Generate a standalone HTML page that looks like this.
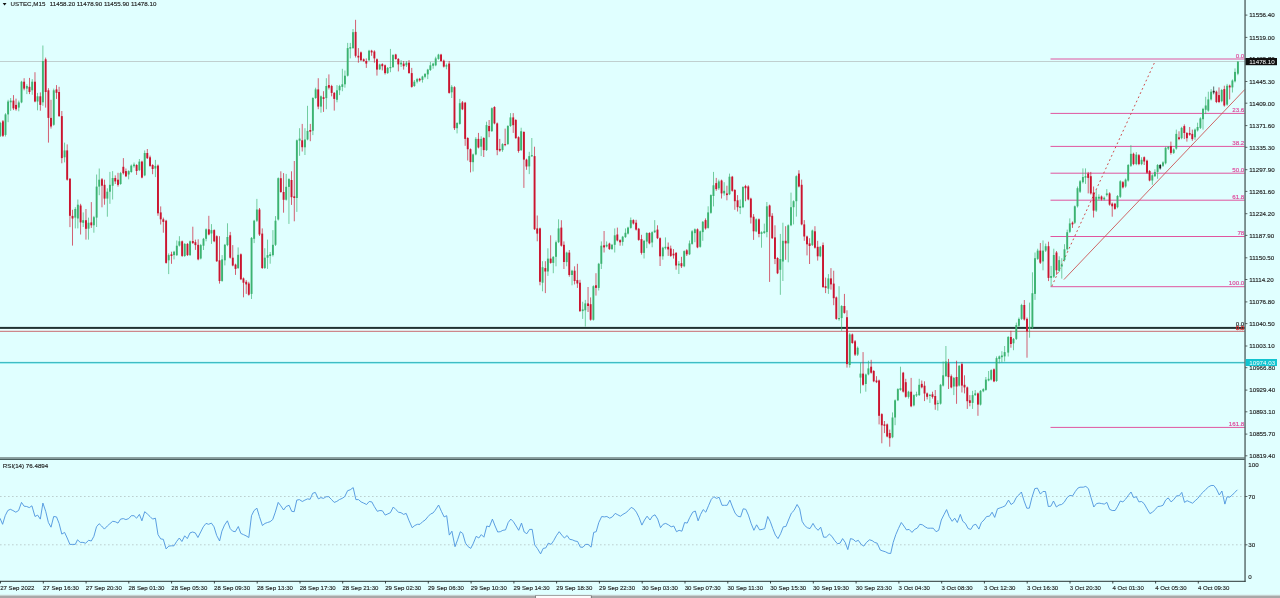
<!DOCTYPE html>
<html><head><meta charset="utf-8"><title>USTEC,M15</title>
<style>
html,body{margin:0;padding:0;background:#e0ffff;overflow:hidden}
body{width:1280px;height:598px;font-family:"Liberation Sans", sans-serif}
svg text{font-family:"Liberation Sans", sans-serif;stroke-width:0.14px;paint-order:stroke}
svg text[fill="#222"]{stroke:#222}
svg text[fill="#de3f96"]{stroke:#de3f96}
svg text[fill="#d02020"]{stroke:#d02020;stroke-width:0.3px}
svg{will-change:transform}
</style></head>
<body>
<svg width="1280" height="598" viewBox="0 0 1280 598" style="display:block">
<rect x="0" y="0" width="1280" height="598" fill="#e0ffff"/>
<line x1="0" y1="61.5" x2="1245" y2="61.5" stroke="#c0cfcf" stroke-width="1"/>
<line x1="1050.5" y1="59.0" x2="1245" y2="59.0" stroke="#e0559f" stroke-width="1"/>
<text x="1244.3" y="57.5" text-anchor="end" font-size="6.2" fill="#de3f96">0.0</text>
<line x1="1050.5" y1="113.4" x2="1245" y2="113.4" stroke="#e0559f" stroke-width="1"/>
<text x="1244.3" y="111.9" text-anchor="end" font-size="6.2" fill="#de3f96">23.6</text>
<line x1="1050.5" y1="146.4" x2="1245" y2="146.4" stroke="#e0559f" stroke-width="1"/>
<text x="1244.3" y="144.9" text-anchor="end" font-size="6.2" fill="#de3f96">38.2</text>
<line x1="1050.5" y1="173.2" x2="1245" y2="173.2" stroke="#e0559f" stroke-width="1"/>
<text x="1244.3" y="171.7" text-anchor="end" font-size="6.2" fill="#de3f96">50.0</text>
<line x1="1050.5" y1="200.2" x2="1245" y2="200.2" stroke="#e0559f" stroke-width="1"/>
<text x="1244.3" y="198.7" text-anchor="end" font-size="6.2" fill="#de3f96">61.8</text>
<line x1="1050.5" y1="236.5" x2="1245" y2="236.5" stroke="#e0559f" stroke-width="1"/>
<text x="1244.3" y="235.0" text-anchor="end" font-size="6.2" fill="#de3f96">78</text>
<line x1="1050.5" y1="286.7" x2="1245" y2="286.7" stroke="#e0559f" stroke-width="1"/>
<text x="1244.3" y="285.2" text-anchor="end" font-size="6.2" fill="#de3f96">100.0</text>
<line x1="1050.5" y1="427.4" x2="1245" y2="427.4" stroke="#e0559f" stroke-width="1"/>
<text x="1244.3" y="425.9" text-anchor="end" font-size="6.2" fill="#de3f96">161.8</text>
<rect x="0" y="326.9" width="1245" height="2.0" fill="#223333"/>
<rect x="0" y="329.4" width="1245" height="1.0" fill="#f6ffff"/>
<line x1="0" y1="331.3" x2="1245" y2="331.3" stroke="#c86a6e" stroke-width="1"/>
<rect x="0" y="361.9" width="1245" height="1.2" fill="#3fbcc4"/>
<rect x="0" y="363.1" width="1245" height="0.8" fill="#8eeaee"/>
<text x="1244.3" y="325.6" text-anchor="end" font-size="6.2" fill="#222">0.0</text>
<text x="1244.3" y="329.8" text-anchor="end" font-size="6.2" fill="#d02020">0.0</text>
<line x1="1063.9" y1="279.6" x2="1245" y2="89.3" stroke="#cc5555" stroke-width="0.9"/>
<line x1="1051.8" y1="286.2" x2="1155" y2="61.5" stroke="#cf4848" stroke-width="1" stroke-dasharray="1.8,2.8"/>
<g shape-rendering="auto"><rect x="-0.11" y="121.8" width="0.9" height="15.2" fill="#3cb371" opacity="0.75"/><rect x="-0.61" y="123.0" width="1.9" height="12.8" fill="#3cb371"/><rect x="2.48" y="120.0" width="0.9" height="17.0" fill="#cb142f" opacity="0.75"/><rect x="1.98" y="121.3" width="1.9" height="14.5" fill="#cb142f"/><rect x="5.06" y="113.2" width="0.9" height="23.3" fill="#3cb371" opacity="0.75"/><rect x="4.56" y="114.4" width="1.9" height="20.5" fill="#3cb371"/><rect x="7.65" y="99.8" width="0.9" height="22.4" fill="#3cb371" opacity="0.75"/><rect x="7.15" y="101.5" width="1.9" height="12.9" fill="#3cb371"/><rect x="10.23" y="98.0" width="0.9" height="12.9" fill="#3cb371" opacity="0.75"/><rect x="9.73" y="100.6" width="1.9" height="1.7" fill="#3cb371"/><rect x="12.99" y="95.1" width="0.9" height="15.0" fill="#cb142f" opacity="0.75"/><rect x="12.49" y="100.6" width="1.9" height="7.8" fill="#cb142f"/><rect x="15.57" y="98.6" width="0.9" height="12.1" fill="#cb142f" opacity="0.75"/><rect x="15.07" y="104.9" width="1.9" height="4.3" fill="#cb142f"/><rect x="18.33" y="100.6" width="0.9" height="10.7" fill="#3cb371" opacity="0.75"/><rect x="17.83" y="102.4" width="1.9" height="5.2" fill="#3cb371"/><rect x="21.08" y="80.8" width="0.9" height="22.4" fill="#3cb371" opacity="0.75"/><rect x="20.58" y="81.7" width="1.9" height="20.7" fill="#3cb371"/><rect x="23.67" y="78.2" width="0.9" height="12.1" fill="#cb142f" opacity="0.75"/><rect x="23.17" y="81.7" width="1.9" height="6.9" fill="#cb142f"/><rect x="26.42" y="84.3" width="0.9" height="9.8" fill="#3cb371" opacity="0.75"/><rect x="25.92" y="86.0" width="1.9" height="2.6" fill="#3cb371"/><rect x="29.01" y="77.9" width="0.9" height="16.2" fill="#cb142f" opacity="0.75"/><rect x="28.51" y="86.8" width="1.9" height="5.2" fill="#cb142f"/><rect x="31.76" y="79.1" width="0.9" height="15.7" fill="#3cb371" opacity="0.75"/><rect x="31.26" y="81.7" width="1.9" height="8.6" fill="#3cb371"/><rect x="34.52" y="72.2" width="0.9" height="30.1" fill="#cb142f" opacity="0.75"/><rect x="34.02" y="81.7" width="1.9" height="19.8" fill="#cb142f"/><rect x="37.10" y="92.9" width="0.9" height="17.4" fill="#3cb371" opacity="0.75"/><rect x="36.60" y="96.3" width="1.9" height="5.2" fill="#3cb371"/><rect x="39.86" y="92.4" width="0.9" height="18.3" fill="#cb142f" opacity="0.75"/><rect x="39.36" y="96.3" width="1.9" height="8.6" fill="#cb142f"/><rect x="42.44" y="45.5" width="0.9" height="60.3" fill="#3cb371" opacity="0.75"/><rect x="41.94" y="61.0" width="1.9" height="41.3" fill="#3cb371"/><rect x="45.20" y="57.6" width="0.9" height="50.0" fill="#cb142f" opacity="0.75"/><rect x="44.70" y="59.3" width="1.9" height="32.7" fill="#cb142f"/><rect x="47.96" y="88.2" width="0.9" height="54.4" fill="#cb142f" opacity="0.75"/><rect x="47.46" y="90.3" width="1.9" height="27.6" fill="#cb142f"/><rect x="50.54" y="99.8" width="0.9" height="28.8" fill="#cb142f" opacity="0.75"/><rect x="50.04" y="117.9" width="1.9" height="8.6" fill="#cb142f"/><rect x="53.30" y="88.6" width="0.9" height="37.2" fill="#3cb371" opacity="0.75"/><rect x="52.80" y="90.3" width="1.9" height="34.5" fill="#3cb371"/><rect x="56.05" y="85.1" width="0.9" height="13.8" fill="#cb142f" opacity="0.75"/><rect x="55.55" y="89.4" width="1.9" height="3.4" fill="#cb142f"/><rect x="58.64" y="86.8" width="0.9" height="30.1" fill="#cb142f" opacity="0.75"/><rect x="58.14" y="92.0" width="1.9" height="24.1" fill="#cb142f"/><rect x="61.39" y="111.0" width="0.9" height="52.3" fill="#cb142f" opacity="0.75"/><rect x="60.89" y="116.1" width="1.9" height="42.0" fill="#cb142f"/><rect x="64.15" y="142.6" width="0.9" height="19.8" fill="#3cb371" opacity="0.75"/><rect x="63.65" y="150.4" width="1.9" height="6.9" fill="#3cb371"/><rect x="66.73" y="144.4" width="0.9" height="36.2" fill="#cb142f" opacity="0.75"/><rect x="66.23" y="150.4" width="1.9" height="29.3" fill="#cb142f"/><rect x="69.49" y="178.0" width="0.9" height="49.1" fill="#cb142f" opacity="0.75"/><rect x="68.99" y="178.8" width="1.9" height="37.0" fill="#cb142f"/><rect x="72.07" y="209.8" width="0.9" height="35.8" fill="#cb142f" opacity="0.75"/><rect x="71.57" y="215.9" width="1.9" height="2.6" fill="#cb142f"/><rect x="74.83" y="207.2" width="0.9" height="21.2" fill="#3cb371" opacity="0.75"/><rect x="74.33" y="209.0" width="1.9" height="8.6" fill="#3cb371"/><rect x="77.41" y="199.5" width="0.9" height="28.9" fill="#3cb371" opacity="0.75"/><rect x="76.91" y="204.7" width="1.9" height="13.8" fill="#3cb371"/><rect x="80.17" y="203.8" width="0.9" height="30.7" fill="#cb142f" opacity="0.75"/><rect x="79.67" y="205.5" width="1.9" height="16.9" fill="#cb142f"/><rect x="82.75" y="212.4" width="0.9" height="14.6" fill="#3cb371" opacity="0.75"/><rect x="82.25" y="220.2" width="1.9" height="2.6" fill="#3cb371"/><rect x="85.51" y="209.0" width="0.9" height="30.6" fill="#cb142f" opacity="0.75"/><rect x="85.01" y="220.2" width="1.9" height="8.6" fill="#cb142f"/><rect x="88.09" y="217.6" width="0.9" height="22.0" fill="#3cb371" opacity="0.75"/><rect x="87.59" y="222.7" width="1.9" height="6.0" fill="#3cb371"/><rect x="90.85" y="202.1" width="0.9" height="25.8" fill="#cb142f" opacity="0.75"/><rect x="90.35" y="222.4" width="1.9" height="2.9" fill="#cb142f"/><rect x="93.43" y="215.9" width="0.9" height="16.8" fill="#3cb371" opacity="0.75"/><rect x="92.93" y="217.2" width="1.9" height="8.1" fill="#3cb371"/><rect x="96.19" y="174.5" width="0.9" height="52.5" fill="#3cb371" opacity="0.75"/><rect x="95.69" y="186.6" width="1.9" height="31.0" fill="#3cb371"/><rect x="98.77" y="168.5" width="0.9" height="26.7" fill="#3cb371" opacity="0.75"/><rect x="98.27" y="179.7" width="1.9" height="6.9" fill="#3cb371"/><rect x="101.53" y="178.0" width="0.9" height="29.3" fill="#cb142f" opacity="0.75"/><rect x="101.03" y="179.3" width="1.9" height="6.4" fill="#cb142f"/><rect x="104.12" y="179.7" width="0.9" height="25.0" fill="#cb142f" opacity="0.75"/><rect x="103.62" y="184.8" width="1.9" height="13.8" fill="#cb142f"/><rect x="106.87" y="188.3" width="0.9" height="28.4" fill="#3cb371" opacity="0.75"/><rect x="106.37" y="191.7" width="1.9" height="6.9" fill="#3cb371"/><rect x="109.46" y="171.9" width="0.9" height="31.9" fill="#3cb371" opacity="0.75"/><rect x="108.96" y="184.8" width="1.9" height="6.9" fill="#3cb371"/><rect x="112.21" y="171.1" width="0.9" height="28.4" fill="#3cb371" opacity="0.75"/><rect x="111.71" y="178.0" width="1.9" height="7.8" fill="#3cb371"/><rect x="114.80" y="175.4" width="0.9" height="8.6" fill="#cb142f" opacity="0.75"/><rect x="114.30" y="178.0" width="1.9" height="3.4" fill="#cb142f"/><rect x="117.55" y="172.8" width="0.9" height="13.8" fill="#cb142f" opacity="0.75"/><rect x="117.05" y="179.7" width="1.9" height="5.2" fill="#cb142f"/><rect x="120.14" y="171.9" width="0.9" height="12.9" fill="#3cb371" opacity="0.75"/><rect x="119.64" y="173.1" width="1.9" height="10.9" fill="#3cb371"/><rect x="122.89" y="158.1" width="0.9" height="16.4" fill="#cb142f" opacity="0.75"/><rect x="122.39" y="166.8" width="1.9" height="6.4" fill="#cb142f"/><rect x="125.48" y="168.5" width="0.9" height="8.6" fill="#cb142f" opacity="0.75"/><rect x="124.98" y="171.1" width="1.9" height="5.2" fill="#cb142f"/><rect x="128.23" y="170.2" width="0.9" height="9.1" fill="#3cb371" opacity="0.75"/><rect x="127.73" y="171.1" width="1.9" height="3.4" fill="#3cb371"/><rect x="130.82" y="164.5" width="0.9" height="8.3" fill="#3cb371" opacity="0.75"/><rect x="130.32" y="165.6" width="1.9" height="6.4" fill="#3cb371"/><rect x="133.57" y="162.5" width="0.9" height="5.2" fill="#3cb371" opacity="0.75"/><rect x="133.07" y="164.5" width="1.9" height="1.7" fill="#3cb371"/><rect x="136.16" y="164.2" width="0.9" height="10.7" fill="#cb142f" opacity="0.75"/><rect x="135.66" y="165.0" width="1.9" height="6.0" fill="#cb142f"/><rect x="138.91" y="159.0" width="0.9" height="12.1" fill="#3cb371" opacity="0.75"/><rect x="138.41" y="161.6" width="1.9" height="8.6" fill="#3cb371"/><rect x="141.50" y="160.7" width="0.9" height="17.6" fill="#cb142f" opacity="0.75"/><rect x="141.00" y="161.6" width="1.9" height="16.0" fill="#cb142f"/><rect x="144.25" y="150.4" width="0.9" height="25.8" fill="#3cb371" opacity="0.75"/><rect x="143.75" y="153.0" width="1.9" height="22.4" fill="#3cb371"/><rect x="146.84" y="149.0" width="0.9" height="10.0" fill="#cb142f" opacity="0.75"/><rect x="146.34" y="153.0" width="1.9" height="5.2" fill="#cb142f"/><rect x="149.59" y="155.6" width="0.9" height="11.2" fill="#cb142f" opacity="0.75"/><rect x="149.09" y="157.3" width="1.9" height="8.6" fill="#cb142f"/><rect x="152.18" y="164.2" width="0.9" height="10.0" fill="#cb142f" opacity="0.75"/><rect x="151.68" y="165.0" width="1.9" height="4.0" fill="#cb142f"/><rect x="154.93" y="159.9" width="0.9" height="17.2" fill="#3cb371" opacity="0.75"/><rect x="154.43" y="165.9" width="1.9" height="2.6" fill="#3cb371"/><rect x="157.52" y="164.5" width="0.9" height="51.3" fill="#cb142f" opacity="0.75"/><rect x="157.02" y="165.6" width="1.9" height="47.7" fill="#cb142f"/><rect x="160.27" y="206.4" width="0.9" height="18.1" fill="#cb142f" opacity="0.75"/><rect x="159.77" y="212.4" width="1.9" height="6.9" fill="#cb142f"/><rect x="162.86" y="217.6" width="0.9" height="15.1" fill="#cb142f" opacity="0.75"/><rect x="162.36" y="219.3" width="1.9" height="2.6" fill="#cb142f"/><rect x="165.67" y="219.8" width="0.9" height="43.9" fill="#cb142f" opacity="0.75"/><rect x="165.17" y="220.7" width="1.9" height="42.2" fill="#cb142f"/><rect x="168.25" y="253.4" width="0.9" height="20.7" fill="#3cb371" opacity="0.75"/><rect x="167.75" y="255.1" width="1.9" height="5.2" fill="#3cb371"/><rect x="171.01" y="251.7" width="0.9" height="12.1" fill="#cb142f" opacity="0.75"/><rect x="170.51" y="254.3" width="1.9" height="1.7" fill="#cb142f"/><rect x="173.59" y="250.8" width="0.9" height="8.6" fill="#3cb371" opacity="0.75"/><rect x="173.09" y="251.7" width="1.9" height="3.4" fill="#3cb371"/><rect x="176.35" y="240.5" width="0.9" height="15.5" fill="#3cb371" opacity="0.75"/><rect x="175.85" y="245.7" width="1.9" height="9.5" fill="#3cb371"/><rect x="178.93" y="236.2" width="0.9" height="10.3" fill="#3cb371" opacity="0.75"/><rect x="178.43" y="241.3" width="1.9" height="4.3" fill="#3cb371"/><rect x="181.69" y="240.5" width="0.9" height="16.4" fill="#cb142f" opacity="0.75"/><rect x="181.19" y="241.3" width="1.9" height="14.6" fill="#cb142f"/><rect x="184.27" y="243.1" width="0.9" height="13.8" fill="#3cb371" opacity="0.75"/><rect x="183.77" y="243.9" width="1.9" height="12.1" fill="#3cb371"/><rect x="187.03" y="243.1" width="0.9" height="12.9" fill="#cb142f" opacity="0.75"/><rect x="186.53" y="243.9" width="1.9" height="11.2" fill="#cb142f"/><rect x="189.61" y="240.5" width="0.9" height="15.5" fill="#3cb371" opacity="0.75"/><rect x="189.11" y="241.3" width="1.9" height="13.8" fill="#3cb371"/><rect x="192.37" y="226.7" width="0.9" height="17.2" fill="#cb142f" opacity="0.75"/><rect x="191.87" y="241.0" width="1.9" height="2.1" fill="#cb142f"/><rect x="194.95" y="239.6" width="0.9" height="10.3" fill="#cb142f" opacity="0.75"/><rect x="194.45" y="242.2" width="1.9" height="2.9" fill="#cb142f"/><rect x="197.71" y="239.3" width="0.9" height="21.0" fill="#cb142f" opacity="0.75"/><rect x="197.21" y="244.8" width="1.9" height="14.6" fill="#cb142f"/><rect x="200.29" y="243.9" width="0.9" height="15.5" fill="#3cb371" opacity="0.75"/><rect x="199.79" y="245.1" width="1.9" height="13.4" fill="#3cb371"/><rect x="203.05" y="237.9" width="0.9" height="12.1" fill="#3cb371" opacity="0.75"/><rect x="202.55" y="238.8" width="1.9" height="6.9" fill="#3cb371"/><rect x="205.63" y="228.4" width="0.9" height="12.9" fill="#3cb371" opacity="0.75"/><rect x="205.13" y="229.3" width="1.9" height="9.5" fill="#3cb371"/><rect x="208.39" y="215.8" width="0.9" height="19.5" fill="#cb142f" opacity="0.75"/><rect x="207.89" y="229.3" width="1.9" height="5.2" fill="#cb142f"/><rect x="210.97" y="224.1" width="0.9" height="19.8" fill="#3cb371" opacity="0.75"/><rect x="210.47" y="230.1" width="1.9" height="3.4" fill="#3cb371"/><rect x="213.73" y="229.3" width="0.9" height="12.9" fill="#cb142f" opacity="0.75"/><rect x="213.23" y="230.1" width="1.9" height="11.2" fill="#cb142f"/><rect x="216.31" y="235.3" width="0.9" height="26.7" fill="#cb142f" opacity="0.75"/><rect x="215.81" y="236.2" width="1.9" height="25.0" fill="#cb142f"/><rect x="219.07" y="236.2" width="0.9" height="47.4" fill="#cb142f" opacity="0.75"/><rect x="218.57" y="260.3" width="1.9" height="20.7" fill="#cb142f"/><rect x="221.65" y="255.1" width="0.9" height="26.7" fill="#3cb371" opacity="0.75"/><rect x="221.15" y="259.4" width="1.9" height="21.5" fill="#3cb371"/><rect x="224.41" y="243.9" width="0.9" height="21.5" fill="#3cb371" opacity="0.75"/><rect x="223.91" y="244.8" width="1.9" height="15.5" fill="#3cb371"/><rect x="226.99" y="223.3" width="0.9" height="22.9" fill="#3cb371" opacity="0.75"/><rect x="226.49" y="237.0" width="1.9" height="8.1" fill="#3cb371"/><rect x="229.75" y="231.9" width="0.9" height="26.7" fill="#cb142f" opacity="0.75"/><rect x="229.25" y="235.3" width="1.9" height="22.4" fill="#cb142f"/><rect x="232.33" y="245.1" width="0.9" height="21.2" fill="#cb142f" opacity="0.75"/><rect x="231.83" y="257.7" width="1.9" height="7.8" fill="#cb142f"/><rect x="235.09" y="263.7" width="0.9" height="11.2" fill="#cb142f" opacity="0.75"/><rect x="234.59" y="264.6" width="1.9" height="4.3" fill="#cb142f"/><rect x="237.67" y="247.4" width="0.9" height="21.5" fill="#3cb371" opacity="0.75"/><rect x="237.17" y="254.8" width="1.9" height="13.3" fill="#3cb371"/><rect x="240.43" y="253.4" width="0.9" height="26.7" fill="#cb142f" opacity="0.75"/><rect x="239.93" y="254.3" width="1.9" height="25.0" fill="#cb142f"/><rect x="243.01" y="277.5" width="0.9" height="19.8" fill="#cb142f" opacity="0.75"/><rect x="242.51" y="278.4" width="1.9" height="4.3" fill="#cb142f"/><rect x="245.77" y="280.1" width="0.9" height="13.8" fill="#cb142f" opacity="0.75"/><rect x="245.27" y="281.8" width="1.9" height="2.6" fill="#cb142f"/><rect x="248.35" y="281.8" width="0.9" height="13.8" fill="#cb142f" opacity="0.75"/><rect x="247.85" y="283.5" width="1.9" height="11.2" fill="#cb142f"/><rect x="251.11" y="237.0" width="0.9" height="62.0" fill="#3cb371" opacity="0.75"/><rect x="250.61" y="237.9" width="1.9" height="56.0" fill="#3cb371"/><rect x="253.69" y="219.8" width="0.9" height="23.3" fill="#3cb371" opacity="0.75"/><rect x="253.19" y="220.7" width="1.9" height="18.1" fill="#3cb371"/><rect x="256.44" y="198.9" width="0.9" height="23.1" fill="#3cb371" opacity="0.75"/><rect x="255.94" y="209.5" width="1.9" height="11.2" fill="#3cb371"/><rect x="259.02" y="208.0" width="0.9" height="28.0" fill="#cb142f" opacity="0.75"/><rect x="258.52" y="209.5" width="1.9" height="25.0" fill="#cb142f"/><rect x="261.78" y="228.4" width="0.9" height="40.6" fill="#cb142f" opacity="0.75"/><rect x="261.28" y="233.6" width="1.9" height="34.4" fill="#cb142f"/><rect x="264.36" y="248.2" width="0.9" height="20.8" fill="#3cb371" opacity="0.75"/><rect x="263.86" y="257.7" width="1.9" height="10.3" fill="#3cb371"/><rect x="267.12" y="239.6" width="0.9" height="29.3" fill="#3cb371" opacity="0.75"/><rect x="266.62" y="255.1" width="1.9" height="2.6" fill="#3cb371"/><rect x="269.71" y="252.0" width="0.9" height="11.7" fill="#3cb371" opacity="0.75"/><rect x="269.21" y="254.3" width="1.9" height="1.7" fill="#3cb371"/><rect x="272.46" y="230.1" width="0.9" height="26.4" fill="#3cb371" opacity="0.75"/><rect x="271.96" y="244.8" width="1.9" height="10.3" fill="#3cb371"/><rect x="275.05" y="216.1" width="0.9" height="29.9" fill="#3cb371" opacity="0.75"/><rect x="274.55" y="220.7" width="1.9" height="24.1" fill="#3cb371"/><rect x="277.80" y="177.4" width="0.9" height="43.1" fill="#3cb371" opacity="0.75"/><rect x="277.30" y="178.2" width="1.9" height="41.3" fill="#3cb371"/><rect x="280.39" y="171.3" width="0.9" height="21.5" fill="#cb142f" opacity="0.75"/><rect x="279.89" y="178.2" width="1.9" height="13.8" fill="#cb142f"/><rect x="283.14" y="173.1" width="0.9" height="39.6" fill="#cb142f" opacity="0.75"/><rect x="282.64" y="192.0" width="1.9" height="7.8" fill="#cb142f"/><rect x="285.73" y="173.9" width="0.9" height="26.7" fill="#3cb371" opacity="0.75"/><rect x="285.23" y="186.8" width="1.9" height="12.9" fill="#3cb371"/><rect x="288.48" y="178.2" width="0.9" height="45.7" fill="#3cb371" opacity="0.75"/><rect x="287.98" y="179.1" width="1.9" height="7.8" fill="#3cb371"/><rect x="291.07" y="171.3" width="0.9" height="33.6" fill="#cb142f" opacity="0.75"/><rect x="290.57" y="180.0" width="1.9" height="17.2" fill="#cb142f"/><rect x="293.82" y="161.0" width="0.9" height="60.3" fill="#cb142f" opacity="0.75"/><rect x="293.32" y="196.3" width="1.9" height="1.7" fill="#cb142f"/><rect x="296.41" y="139.5" width="0.9" height="72.4" fill="#3cb371" opacity="0.75"/><rect x="295.91" y="140.3" width="1.9" height="57.7" fill="#3cb371"/><rect x="299.16" y="128.2" width="0.9" height="27.6" fill="#3cb371" opacity="0.75"/><rect x="298.66" y="138.6" width="1.9" height="2.1" fill="#3cb371"/><rect x="301.75" y="123.9" width="0.9" height="27.6" fill="#cb142f" opacity="0.75"/><rect x="301.25" y="140.3" width="1.9" height="6.9" fill="#cb142f"/><rect x="304.50" y="128.2" width="0.9" height="26.8" fill="#3cb371" opacity="0.75"/><rect x="304.00" y="139.5" width="1.9" height="7.8" fill="#3cb371"/><rect x="307.09" y="105.8" width="0.9" height="34.5" fill="#3cb371" opacity="0.75"/><rect x="306.59" y="130.9" width="1.9" height="8.6" fill="#3cb371"/><rect x="309.84" y="123.9" width="0.9" height="17.3" fill="#cb142f" opacity="0.75"/><rect x="309.34" y="130.0" width="1.9" height="1.7" fill="#cb142f"/><rect x="312.43" y="97.2" width="0.9" height="37.9" fill="#3cb371" opacity="0.75"/><rect x="311.93" y="98.0" width="1.9" height="32.7" fill="#3cb371"/><rect x="315.18" y="87.7" width="0.9" height="11.2" fill="#3cb371" opacity="0.75"/><rect x="314.68" y="89.4" width="1.9" height="8.6" fill="#3cb371"/><rect x="317.77" y="78.2" width="0.9" height="31.0" fill="#cb142f" opacity="0.75"/><rect x="317.27" y="89.4" width="1.9" height="17.2" fill="#cb142f"/><rect x="320.52" y="95.5" width="0.9" height="17.2" fill="#3cb371" opacity="0.75"/><rect x="320.02" y="96.3" width="1.9" height="10.3" fill="#3cb371"/><rect x="323.11" y="91.2" width="0.9" height="20.7" fill="#cb142f" opacity="0.75"/><rect x="322.61" y="97.2" width="1.9" height="1.7" fill="#cb142f"/><rect x="325.86" y="78.2" width="0.9" height="31.0" fill="#3cb371" opacity="0.75"/><rect x="325.36" y="86.0" width="1.9" height="12.1" fill="#3cb371"/><rect x="328.45" y="74.4" width="0.9" height="15.0" fill="#cb142f" opacity="0.75"/><rect x="327.95" y="85.1" width="1.9" height="2.6" fill="#cb142f"/><rect x="331.20" y="84.8" width="0.9" height="11.5" fill="#cb142f" opacity="0.75"/><rect x="330.70" y="86.0" width="1.9" height="6.9" fill="#cb142f"/><rect x="333.79" y="92.0" width="0.9" height="18.6" fill="#cb142f" opacity="0.75"/><rect x="333.29" y="92.9" width="1.9" height="6.0" fill="#cb142f"/><rect x="336.54" y="85.1" width="0.9" height="17.2" fill="#3cb371" opacity="0.75"/><rect x="336.04" y="90.3" width="1.9" height="9.5" fill="#3cb371"/><rect x="339.13" y="84.8" width="0.9" height="10.3" fill="#3cb371" opacity="0.75"/><rect x="338.63" y="86.0" width="1.9" height="4.3" fill="#3cb371"/><rect x="341.88" y="68.8" width="0.9" height="22.4" fill="#3cb371" opacity="0.75"/><rect x="341.38" y="84.3" width="1.9" height="2.6" fill="#3cb371"/><rect x="344.47" y="70.5" width="0.9" height="17.2" fill="#3cb371" opacity="0.75"/><rect x="343.97" y="75.7" width="1.9" height="8.6" fill="#3cb371"/><rect x="347.22" y="42.9" width="0.9" height="33.6" fill="#3cb371" opacity="0.75"/><rect x="346.72" y="48.1" width="1.9" height="27.6" fill="#3cb371"/><rect x="349.81" y="42.9" width="0.9" height="15.5" fill="#3cb371" opacity="0.75"/><rect x="349.31" y="47.2" width="1.9" height="1.4" fill="#3cb371"/><rect x="352.56" y="29.0" width="0.9" height="20.0" fill="#3cb371" opacity="0.75"/><rect x="352.06" y="32.2" width="1.9" height="15.8" fill="#3cb371"/><rect x="355.15" y="19.8" width="0.9" height="37.7" fill="#cb142f" opacity="0.75"/><rect x="354.65" y="31.9" width="1.9" height="23.9" fill="#cb142f"/><rect x="357.90" y="48.1" width="0.9" height="14.6" fill="#cb142f" opacity="0.75"/><rect x="357.40" y="55.8" width="1.9" height="1.7" fill="#cb142f"/><rect x="360.49" y="51.5" width="0.9" height="9.5" fill="#cb142f" opacity="0.75"/><rect x="359.99" y="52.4" width="1.9" height="7.8" fill="#cb142f"/><rect x="363.25" y="58.4" width="0.9" height="3.4" fill="#cb142f" opacity="0.75"/><rect x="362.75" y="59.3" width="1.9" height="1.7" fill="#cb142f"/><rect x="365.83" y="58.4" width="0.9" height="9.5" fill="#cb142f" opacity="0.75"/><rect x="365.33" y="61.0" width="1.9" height="2.6" fill="#cb142f"/><rect x="368.59" y="49.8" width="0.9" height="11.2" fill="#3cb371" opacity="0.75"/><rect x="368.09" y="50.7" width="1.9" height="9.5" fill="#3cb371"/><rect x="371.17" y="49.8" width="0.9" height="6.0" fill="#cb142f" opacity="0.75"/><rect x="370.67" y="50.7" width="1.9" height="1.7" fill="#cb142f"/><rect x="373.93" y="50.3" width="0.9" height="12.4" fill="#cb142f" opacity="0.75"/><rect x="373.43" y="51.5" width="1.9" height="6.9" fill="#cb142f"/><rect x="376.51" y="58.4" width="0.9" height="17.2" fill="#cb142f" opacity="0.75"/><rect x="376.01" y="59.3" width="1.9" height="10.3" fill="#cb142f"/><rect x="379.27" y="63.6" width="0.9" height="6.4" fill="#3cb371" opacity="0.75"/><rect x="378.77" y="64.5" width="1.9" height="4.8" fill="#3cb371"/><rect x="381.85" y="63.2" width="0.9" height="7.2" fill="#cb142f" opacity="0.75"/><rect x="381.35" y="64.1" width="1.9" height="2.1" fill="#cb142f"/><rect x="384.61" y="64.5" width="0.9" height="10.0" fill="#cb142f" opacity="0.75"/><rect x="384.11" y="65.3" width="1.9" height="7.8" fill="#cb142f"/><rect x="387.19" y="67.0" width="0.9" height="6.9" fill="#3cb371" opacity="0.75"/><rect x="386.69" y="67.9" width="1.9" height="5.2" fill="#3cb371"/><rect x="389.95" y="48.9" width="0.9" height="23.3" fill="#3cb371" opacity="0.75"/><rect x="389.45" y="67.0" width="1.9" height="1.2" fill="#3cb371"/><rect x="392.53" y="54.1" width="0.9" height="13.8" fill="#3cb371" opacity="0.75"/><rect x="392.03" y="55.0" width="1.9" height="12.1" fill="#3cb371"/><rect x="395.29" y="53.8" width="0.9" height="5.9" fill="#cb142f" opacity="0.75"/><rect x="394.79" y="54.5" width="1.9" height="4.5" fill="#cb142f"/><rect x="397.87" y="58.1" width="0.9" height="13.3" fill="#cb142f" opacity="0.75"/><rect x="397.37" y="58.9" width="1.9" height="5.5" fill="#cb142f"/><rect x="400.63" y="60.1" width="0.9" height="6.9" fill="#3cb371" opacity="0.75"/><rect x="400.13" y="62.7" width="1.9" height="1.7" fill="#3cb371"/><rect x="403.21" y="61.0" width="0.9" height="8.6" fill="#cb142f" opacity="0.75"/><rect x="402.71" y="63.6" width="1.9" height="2.6" fill="#cb142f"/><rect x="405.97" y="61.0" width="0.9" height="6.0" fill="#3cb371" opacity="0.75"/><rect x="405.47" y="62.7" width="1.9" height="2.6" fill="#3cb371"/><rect x="408.55" y="60.1" width="0.9" height="13.8" fill="#cb142f" opacity="0.75"/><rect x="408.05" y="62.7" width="1.9" height="10.3" fill="#cb142f"/><rect x="411.31" y="67.9" width="0.9" height="19.8" fill="#cb142f" opacity="0.75"/><rect x="410.81" y="73.1" width="1.9" height="13.8" fill="#cb142f"/><rect x="413.89" y="80.0" width="0.9" height="6.9" fill="#3cb371" opacity="0.75"/><rect x="413.39" y="81.7" width="1.9" height="4.3" fill="#3cb371"/><rect x="416.65" y="77.9" width="0.9" height="5.5" fill="#3cb371" opacity="0.75"/><rect x="416.15" y="79.1" width="1.9" height="2.6" fill="#3cb371"/><rect x="419.23" y="77.9" width="0.9" height="3.8" fill="#cb142f" opacity="0.75"/><rect x="418.73" y="78.8" width="1.9" height="1.6" fill="#cb142f"/><rect x="421.99" y="75.7" width="0.9" height="6.9" fill="#3cb371" opacity="0.75"/><rect x="421.49" y="76.5" width="1.9" height="3.4" fill="#3cb371"/><rect x="424.57" y="73.1" width="0.9" height="5.2" fill="#3cb371" opacity="0.75"/><rect x="424.07" y="73.9" width="1.9" height="2.9" fill="#3cb371"/><rect x="427.33" y="68.8" width="0.9" height="10.3" fill="#3cb371" opacity="0.75"/><rect x="426.83" y="69.6" width="1.9" height="4.8" fill="#3cb371"/><rect x="429.91" y="61.9" width="0.9" height="9.1" fill="#3cb371" opacity="0.75"/><rect x="429.41" y="65.3" width="1.9" height="4.7" fill="#3cb371"/><rect x="432.67" y="62.7" width="0.9" height="6.0" fill="#3cb371" opacity="0.75"/><rect x="432.17" y="63.6" width="1.9" height="2.2" fill="#3cb371"/><rect x="435.25" y="56.7" width="0.9" height="9.5" fill="#3cb371" opacity="0.75"/><rect x="434.75" y="58.4" width="1.9" height="6.9" fill="#3cb371"/><rect x="438.01" y="53.8" width="0.9" height="5.9" fill="#3cb371" opacity="0.75"/><rect x="437.51" y="54.6" width="1.9" height="4.3" fill="#3cb371"/><rect x="440.59" y="53.8" width="0.9" height="8.1" fill="#cb142f" opacity="0.75"/><rect x="440.09" y="54.6" width="1.9" height="6.4" fill="#cb142f"/><rect x="443.35" y="59.6" width="0.9" height="7.9" fill="#cb142f" opacity="0.75"/><rect x="442.85" y="60.7" width="1.9" height="5.9" fill="#cb142f"/><rect x="445.93" y="63.6" width="0.9" height="5.7" fill="#3cb371" opacity="0.75"/><rect x="445.43" y="65.3" width="1.9" height="1.2" fill="#3cb371"/><rect x="448.69" y="61.0" width="0.9" height="32.7" fill="#cb142f" opacity="0.75"/><rect x="448.19" y="63.6" width="1.9" height="29.3" fill="#cb142f"/><rect x="451.27" y="85.1" width="0.9" height="12.9" fill="#3cb371" opacity="0.75"/><rect x="450.77" y="86.8" width="1.9" height="5.5" fill="#3cb371"/><rect x="454.03" y="86.2" width="0.9" height="43.8" fill="#cb142f" opacity="0.75"/><rect x="453.53" y="87.2" width="1.9" height="41.0" fill="#cb142f"/><rect x="456.61" y="122.2" width="0.9" height="11.2" fill="#3cb371" opacity="0.75"/><rect x="456.11" y="123.0" width="1.9" height="5.2" fill="#3cb371"/><rect x="459.37" y="98.9" width="0.9" height="25.8" fill="#3cb371" opacity="0.75"/><rect x="458.87" y="103.2" width="1.9" height="20.7" fill="#3cb371"/><rect x="461.95" y="101.0" width="0.9" height="9.1" fill="#cb142f" opacity="0.75"/><rect x="461.45" y="102.4" width="1.9" height="6.9" fill="#cb142f"/><rect x="464.70" y="101.9" width="0.9" height="43.9" fill="#cb142f" opacity="0.75"/><rect x="464.20" y="102.7" width="1.9" height="36.2" fill="#cb142f"/><rect x="467.28" y="137.2" width="0.9" height="23.3" fill="#cb142f" opacity="0.75"/><rect x="466.78" y="138.0" width="1.9" height="11.2" fill="#cb142f"/><rect x="470.04" y="148.4" width="0.9" height="24.0" fill="#cb142f" opacity="0.75"/><rect x="469.54" y="149.2" width="1.9" height="12.9" fill="#cb142f"/><rect x="472.62" y="153.5" width="0.9" height="18.0" fill="#3cb371" opacity="0.75"/><rect x="472.12" y="154.4" width="1.9" height="7.8" fill="#3cb371"/><rect x="475.38" y="137.2" width="0.9" height="18.1" fill="#3cb371" opacity="0.75"/><rect x="474.88" y="138.9" width="1.9" height="15.5" fill="#3cb371"/><rect x="477.97" y="132.9" width="0.9" height="15.5" fill="#cb142f" opacity="0.75"/><rect x="477.47" y="138.9" width="1.9" height="8.6" fill="#cb142f"/><rect x="480.72" y="136.3" width="0.9" height="19.8" fill="#3cb371" opacity="0.75"/><rect x="480.22" y="138.9" width="1.9" height="7.8" fill="#3cb371"/><rect x="483.31" y="137.2" width="0.9" height="19.8" fill="#cb142f" opacity="0.75"/><rect x="482.81" y="138.0" width="1.9" height="12.1" fill="#cb142f"/><rect x="486.06" y="121.7" width="0.9" height="29.3" fill="#3cb371" opacity="0.75"/><rect x="485.56" y="125.1" width="1.9" height="25.0" fill="#3cb371"/><rect x="488.65" y="120.0" width="0.9" height="17.2" fill="#cb142f" opacity="0.75"/><rect x="488.15" y="126.0" width="1.9" height="5.2" fill="#cb142f"/><rect x="491.40" y="107.4" width="0.9" height="24.6" fill="#3cb371" opacity="0.75"/><rect x="490.90" y="108.2" width="1.9" height="22.9" fill="#3cb371"/><rect x="493.99" y="106.2" width="0.9" height="18.1" fill="#cb142f" opacity="0.75"/><rect x="493.49" y="107.0" width="1.9" height="16.4" fill="#cb142f"/><rect x="496.74" y="122.5" width="0.9" height="32.7" fill="#cb142f" opacity="0.75"/><rect x="496.24" y="123.4" width="1.9" height="26.7" fill="#cb142f"/><rect x="499.33" y="138.9" width="0.9" height="12.9" fill="#cb142f" opacity="0.75"/><rect x="498.83" y="148.9" width="1.9" height="1.7" fill="#cb142f"/><rect x="502.08" y="143.2" width="0.9" height="8.6" fill="#3cb371" opacity="0.75"/><rect x="501.58" y="144.1" width="1.9" height="6.0" fill="#3cb371"/><rect x="504.67" y="128.6" width="0.9" height="17.6" fill="#cb142f" opacity="0.75"/><rect x="504.17" y="144.1" width="1.9" height="1.0" fill="#cb142f"/><rect x="507.42" y="125.1" width="0.9" height="19.8" fill="#3cb371" opacity="0.75"/><rect x="506.92" y="126.0" width="1.9" height="18.1" fill="#3cb371"/><rect x="510.01" y="113.1" width="0.9" height="13.8" fill="#3cb371" opacity="0.75"/><rect x="509.51" y="117.4" width="1.9" height="8.6" fill="#3cb371"/><rect x="512.76" y="113.1" width="0.9" height="19.8" fill="#cb142f" opacity="0.75"/><rect x="512.26" y="117.4" width="1.9" height="7.8" fill="#cb142f"/><rect x="515.35" y="119.1" width="0.9" height="19.8" fill="#cb142f" opacity="0.75"/><rect x="514.85" y="120.0" width="1.9" height="18.1" fill="#cb142f"/><rect x="518.10" y="136.3" width="0.9" height="16.4" fill="#cb142f" opacity="0.75"/><rect x="517.60" y="137.2" width="1.9" height="13.8" fill="#cb142f"/><rect x="520.69" y="127.7" width="0.9" height="23.3" fill="#3cb371" opacity="0.75"/><rect x="520.19" y="131.2" width="1.9" height="18.9" fill="#3cb371"/><rect x="523.44" y="131.2" width="0.9" height="56.7" fill="#cb142f" opacity="0.75"/><rect x="522.94" y="132.0" width="1.9" height="27.6" fill="#cb142f"/><rect x="526.03" y="158.7" width="0.9" height="11.1" fill="#cb142f" opacity="0.75"/><rect x="525.53" y="159.6" width="1.9" height="6.9" fill="#cb142f"/><rect x="528.78" y="151.8" width="0.9" height="22.3" fill="#3cb371" opacity="0.75"/><rect x="528.28" y="156.1" width="1.9" height="10.3" fill="#3cb371"/><rect x="531.37" y="138.0" width="0.9" height="18.9" fill="#3cb371" opacity="0.75"/><rect x="530.87" y="155.1" width="1.9" height="1.2" fill="#3cb371"/><rect x="534.12" y="146.7" width="0.9" height="83.3" fill="#cb142f" opacity="0.75"/><rect x="533.62" y="156.1" width="1.9" height="73.1" fill="#cb142f"/><rect x="536.78" y="215.5" width="0.9" height="25.8" fill="#cb142f" opacity="0.75"/><rect x="536.28" y="228.4" width="1.9" height="5.2" fill="#cb142f"/><rect x="539.53" y="227.6" width="0.9" height="57.7" fill="#cb142f" opacity="0.75"/><rect x="539.03" y="228.4" width="1.9" height="53.4" fill="#cb142f"/><rect x="542.12" y="261.2" width="0.9" height="30.1" fill="#3cb371" opacity="0.75"/><rect x="541.62" y="267.2" width="1.9" height="15.5" fill="#3cb371"/><rect x="544.87" y="261.2" width="0.9" height="31.9" fill="#cb142f" opacity="0.75"/><rect x="544.37" y="268.1" width="1.9" height="3.4" fill="#cb142f"/><rect x="547.46" y="248.3" width="0.9" height="27.6" fill="#3cb371" opacity="0.75"/><rect x="546.96" y="258.6" width="1.9" height="12.9" fill="#3cb371"/><rect x="550.21" y="235.3" width="0.9" height="28.4" fill="#cb142f" opacity="0.75"/><rect x="549.71" y="258.6" width="1.9" height="4.3" fill="#cb142f"/><rect x="552.80" y="256.0" width="0.9" height="17.2" fill="#3cb371" opacity="0.75"/><rect x="552.30" y="256.9" width="1.9" height="6.0" fill="#3cb371"/><rect x="555.55" y="240.5" width="0.9" height="25.8" fill="#3cb371" opacity="0.75"/><rect x="555.05" y="242.2" width="1.9" height="14.6" fill="#3cb371"/><rect x="558.14" y="219.3" width="0.9" height="23.8" fill="#3cb371" opacity="0.75"/><rect x="557.64" y="228.4" width="1.9" height="13.8" fill="#3cb371"/><rect x="560.89" y="220.2" width="0.9" height="26.4" fill="#cb142f" opacity="0.75"/><rect x="560.39" y="227.6" width="1.9" height="18.1" fill="#cb142f"/><rect x="563.48" y="241.4" width="0.9" height="27.6" fill="#cb142f" opacity="0.75"/><rect x="562.98" y="244.8" width="1.9" height="17.2" fill="#cb142f"/><rect x="566.23" y="251.7" width="0.9" height="14.6" fill="#3cb371" opacity="0.75"/><rect x="565.73" y="252.6" width="1.9" height="9.5" fill="#3cb371"/><rect x="568.82" y="250.0" width="0.9" height="26.7" fill="#cb142f" opacity="0.75"/><rect x="568.32" y="252.6" width="1.9" height="22.4" fill="#cb142f"/><rect x="571.57" y="269.8" width="0.9" height="15.5" fill="#3cb371" opacity="0.75"/><rect x="571.07" y="270.7" width="1.9" height="4.3" fill="#3cb371"/><rect x="574.16" y="266.3" width="0.9" height="18.1" fill="#cb142f" opacity="0.75"/><rect x="573.66" y="270.7" width="1.9" height="10.3" fill="#cb142f"/><rect x="576.91" y="263.8" width="0.9" height="24.1" fill="#cb142f" opacity="0.75"/><rect x="576.41" y="280.1" width="1.9" height="3.4" fill="#cb142f"/><rect x="579.50" y="279.8" width="0.9" height="32.2" fill="#cb142f" opacity="0.75"/><rect x="579.00" y="282.7" width="1.9" height="28.4" fill="#cb142f"/><rect x="582.25" y="301.7" width="0.9" height="17.2" fill="#3cb371" opacity="0.75"/><rect x="581.75" y="309.4" width="1.9" height="1.7" fill="#3cb371"/><rect x="584.84" y="299.9" width="0.9" height="26.7" fill="#3cb371" opacity="0.75"/><rect x="584.34" y="303.4" width="1.9" height="6.9" fill="#3cb371"/><rect x="587.59" y="287.0" width="0.9" height="25.0" fill="#cb142f" opacity="0.75"/><rect x="587.09" y="303.4" width="1.9" height="2.6" fill="#cb142f"/><rect x="590.18" y="297.4" width="0.9" height="23.3" fill="#cb142f" opacity="0.75"/><rect x="589.68" y="304.2" width="1.9" height="15.5" fill="#cb142f"/><rect x="592.94" y="285.3" width="0.9" height="35.3" fill="#3cb371" opacity="0.75"/><rect x="592.44" y="286.2" width="1.9" height="33.6" fill="#3cb371"/><rect x="595.52" y="273.2" width="0.9" height="22.4" fill="#cb142f" opacity="0.75"/><rect x="595.02" y="285.3" width="1.9" height="2.6" fill="#cb142f"/><rect x="598.28" y="262.9" width="0.9" height="27.6" fill="#3cb371" opacity="0.75"/><rect x="597.78" y="263.8" width="1.9" height="24.1" fill="#3cb371"/><rect x="600.86" y="241.4" width="0.9" height="27.6" fill="#3cb371" opacity="0.75"/><rect x="600.36" y="245.7" width="1.9" height="18.1" fill="#3cb371"/><rect x="603.62" y="231.0" width="0.9" height="21.5" fill="#cb142f" opacity="0.75"/><rect x="603.12" y="245.3" width="1.9" height="2.1" fill="#cb142f"/><rect x="606.20" y="241.4" width="0.9" height="6.0" fill="#3cb371" opacity="0.75"/><rect x="605.70" y="244.8" width="1.9" height="1.7" fill="#3cb371"/><rect x="608.96" y="242.7" width="0.9" height="7.2" fill="#cb142f" opacity="0.75"/><rect x="608.46" y="243.6" width="1.9" height="5.5" fill="#cb142f"/><rect x="611.54" y="243.9" width="0.9" height="6.0" fill="#3cb371" opacity="0.75"/><rect x="611.04" y="244.8" width="1.9" height="4.3" fill="#3cb371"/><rect x="614.30" y="228.4" width="0.9" height="24.1" fill="#3cb371" opacity="0.75"/><rect x="613.80" y="235.3" width="1.9" height="9.5" fill="#3cb371"/><rect x="616.88" y="227.6" width="0.9" height="13.8" fill="#cb142f" opacity="0.75"/><rect x="616.38" y="234.5" width="1.9" height="6.0" fill="#cb142f"/><rect x="619.64" y="239.3" width="0.9" height="6.4" fill="#cb142f" opacity="0.75"/><rect x="619.14" y="240.2" width="1.9" height="2.1" fill="#cb142f"/><rect x="622.22" y="235.9" width="0.9" height="9.8" fill="#3cb371" opacity="0.75"/><rect x="621.72" y="236.7" width="1.9" height="5.2" fill="#3cb371"/><rect x="624.98" y="228.4" width="0.9" height="9.5" fill="#3cb371" opacity="0.75"/><rect x="624.48" y="232.8" width="1.9" height="4.3" fill="#3cb371"/><rect x="627.56" y="226.7" width="0.9" height="7.8" fill="#3cb371" opacity="0.75"/><rect x="627.06" y="227.6" width="1.9" height="6.0" fill="#3cb371"/><rect x="630.33" y="217.5" width="0.9" height="11.2" fill="#3cb371" opacity="0.75"/><rect x="629.83" y="220.1" width="1.9" height="7.8" fill="#3cb371"/><rect x="632.92" y="219.3" width="0.9" height="5.2" fill="#cb142f" opacity="0.75"/><rect x="632.42" y="220.1" width="1.9" height="3.4" fill="#cb142f"/><rect x="635.67" y="219.8" width="0.9" height="10.7" fill="#cb142f" opacity="0.75"/><rect x="635.17" y="222.7" width="1.9" height="6.9" fill="#cb142f"/><rect x="638.26" y="227.9" width="0.9" height="12.9" fill="#cb142f" opacity="0.75"/><rect x="637.76" y="228.7" width="1.9" height="11.2" fill="#cb142f"/><rect x="641.01" y="234.8" width="0.9" height="19.8" fill="#cb142f" opacity="0.75"/><rect x="640.51" y="239.1" width="1.9" height="13.8" fill="#cb142f"/><rect x="643.60" y="239.9" width="0.9" height="18.6" fill="#3cb371" opacity="0.75"/><rect x="643.10" y="240.8" width="1.9" height="12.1" fill="#3cb371"/><rect x="646.35" y="232.2" width="0.9" height="16.0" fill="#3cb371" opacity="0.75"/><rect x="645.85" y="233.0" width="1.9" height="8.6" fill="#3cb371"/><rect x="648.94" y="232.2" width="0.9" height="12.1" fill="#cb142f" opacity="0.75"/><rect x="648.44" y="233.0" width="1.9" height="10.3" fill="#cb142f"/><rect x="651.69" y="231.3" width="0.9" height="16.0" fill="#3cb371" opacity="0.75"/><rect x="651.19" y="232.2" width="1.9" height="10.3" fill="#3cb371"/><rect x="654.28" y="220.1" width="0.9" height="12.9" fill="#3cb371" opacity="0.75"/><rect x="653.78" y="230.5" width="1.9" height="1.7" fill="#3cb371"/><rect x="657.03" y="225.3" width="0.9" height="13.8" fill="#cb142f" opacity="0.75"/><rect x="656.53" y="229.6" width="1.9" height="8.6" fill="#cb142f"/><rect x="659.62" y="237.4" width="0.9" height="28.6" fill="#cb142f" opacity="0.75"/><rect x="659.12" y="238.2" width="1.9" height="18.1" fill="#cb142f"/><rect x="662.38" y="246.8" width="0.9" height="12.9" fill="#3cb371" opacity="0.75"/><rect x="661.88" y="247.7" width="1.9" height="8.6" fill="#3cb371"/><rect x="664.96" y="237.4" width="0.9" height="12.1" fill="#3cb371" opacity="0.75"/><rect x="664.46" y="246.8" width="1.9" height="1.4" fill="#3cb371"/><rect x="667.72" y="242.5" width="0.9" height="13.4" fill="#cb142f" opacity="0.75"/><rect x="667.22" y="246.8" width="1.9" height="2.6" fill="#cb142f"/><rect x="670.30" y="245.6" width="0.9" height="11.2" fill="#cb142f" opacity="0.75"/><rect x="669.80" y="248.5" width="1.9" height="7.4" fill="#cb142f"/><rect x="673.06" y="249.1" width="0.9" height="9.5" fill="#cb142f" opacity="0.75"/><rect x="672.56" y="253.7" width="1.9" height="1.7" fill="#cb142f"/><rect x="675.64" y="252.0" width="0.9" height="17.7" fill="#cb142f" opacity="0.75"/><rect x="675.14" y="252.9" width="1.9" height="12.6" fill="#cb142f"/><rect x="678.40" y="261.1" width="0.9" height="12.9" fill="#3cb371" opacity="0.75"/><rect x="677.90" y="263.7" width="1.9" height="1.7" fill="#3cb371"/><rect x="680.98" y="256.8" width="0.9" height="11.2" fill="#cb142f" opacity="0.75"/><rect x="680.48" y="263.2" width="1.9" height="3.1" fill="#cb142f"/><rect x="683.74" y="250.3" width="0.9" height="16.9" fill="#3cb371" opacity="0.75"/><rect x="683.24" y="251.1" width="1.9" height="15.2" fill="#3cb371"/><rect x="686.32" y="249.1" width="0.9" height="6.9" fill="#cb142f" opacity="0.75"/><rect x="685.82" y="250.3" width="1.9" height="4.0" fill="#cb142f"/><rect x="689.08" y="240.5" width="0.9" height="14.6" fill="#3cb371" opacity="0.75"/><rect x="688.58" y="243.4" width="1.9" height="10.9" fill="#3cb371"/><rect x="691.66" y="230.1" width="0.9" height="14.6" fill="#3cb371" opacity="0.75"/><rect x="691.16" y="231.3" width="1.9" height="12.6" fill="#3cb371"/><rect x="694.42" y="228.4" width="0.9" height="13.8" fill="#3cb371" opacity="0.75"/><rect x="693.92" y="229.3" width="1.9" height="3.8" fill="#3cb371"/><rect x="697.00" y="228.4" width="0.9" height="19.8" fill="#cb142f" opacity="0.75"/><rect x="696.50" y="229.3" width="1.9" height="18.1" fill="#cb142f"/><rect x="699.76" y="230.5" width="0.9" height="17.2" fill="#3cb371" opacity="0.75"/><rect x="699.26" y="231.3" width="1.9" height="15.5" fill="#3cb371"/><rect x="702.34" y="221.0" width="0.9" height="19.8" fill="#3cb371" opacity="0.75"/><rect x="701.84" y="221.8" width="1.9" height="10.3" fill="#3cb371"/><rect x="705.10" y="218.4" width="0.9" height="11.2" fill="#cb142f" opacity="0.75"/><rect x="704.60" y="220.1" width="1.9" height="8.3" fill="#cb142f"/><rect x="707.68" y="206.3" width="0.9" height="22.4" fill="#3cb371" opacity="0.75"/><rect x="707.18" y="212.4" width="1.9" height="15.5" fill="#3cb371"/><rect x="710.44" y="194.3" width="0.9" height="19.5" fill="#3cb371" opacity="0.75"/><rect x="709.94" y="195.1" width="1.9" height="17.7" fill="#3cb371"/><rect x="713.02" y="171.9" width="0.9" height="34.5" fill="#3cb371" opacity="0.75"/><rect x="712.52" y="185.3" width="1.9" height="10.7" fill="#3cb371"/><rect x="715.78" y="177.9" width="0.9" height="12.9" fill="#cb142f" opacity="0.75"/><rect x="715.28" y="183.1" width="1.9" height="6.0" fill="#cb142f"/><rect x="718.36" y="179.6" width="0.9" height="10.3" fill="#3cb371" opacity="0.75"/><rect x="717.86" y="181.4" width="1.9" height="6.9" fill="#3cb371"/><rect x="721.12" y="179.6" width="0.9" height="18.9" fill="#cb142f" opacity="0.75"/><rect x="720.62" y="180.5" width="1.9" height="12.9" fill="#cb142f"/><rect x="723.70" y="182.2" width="0.9" height="13.4" fill="#3cb371" opacity="0.75"/><rect x="723.20" y="190.8" width="1.9" height="2.6" fill="#3cb371"/><rect x="726.46" y="185.7" width="0.9" height="14.6" fill="#cb142f" opacity="0.75"/><rect x="725.96" y="193.4" width="1.9" height="1.7" fill="#cb142f"/><rect x="729.04" y="173.6" width="0.9" height="21.5" fill="#3cb371" opacity="0.75"/><rect x="728.54" y="176.7" width="1.9" height="17.6" fill="#3cb371"/><rect x="731.80" y="175.9" width="0.9" height="15.8" fill="#cb142f" opacity="0.75"/><rect x="731.30" y="176.7" width="1.9" height="14.1" fill="#cb142f"/><rect x="734.38" y="189.1" width="0.9" height="20.7" fill="#cb142f" opacity="0.75"/><rect x="733.88" y="190.0" width="1.9" height="11.2" fill="#cb142f"/><rect x="737.14" y="195.1" width="0.9" height="16.4" fill="#cb142f" opacity="0.75"/><rect x="736.64" y="200.3" width="1.9" height="6.9" fill="#cb142f"/><rect x="739.72" y="199.5" width="0.9" height="14.6" fill="#3cb371" opacity="0.75"/><rect x="739.22" y="206.3" width="1.9" height="1.7" fill="#3cb371"/><rect x="742.48" y="186.2" width="0.9" height="21.9" fill="#3cb371" opacity="0.75"/><rect x="741.98" y="187.0" width="1.9" height="20.2" fill="#3cb371"/><rect x="745.06" y="184.8" width="0.9" height="16.4" fill="#cb142f" opacity="0.75"/><rect x="744.56" y="186.0" width="1.9" height="2.2" fill="#cb142f"/><rect x="747.82" y="185.3" width="0.9" height="15.0" fill="#cb142f" opacity="0.75"/><rect x="747.32" y="186.5" width="1.9" height="12.9" fill="#cb142f"/><rect x="750.40" y="197.7" width="0.9" height="25.8" fill="#cb142f" opacity="0.75"/><rect x="749.90" y="198.6" width="1.9" height="18.9" fill="#cb142f"/><rect x="753.16" y="214.1" width="0.9" height="25.8" fill="#cb142f" opacity="0.75"/><rect x="752.66" y="216.7" width="1.9" height="14.6" fill="#cb142f"/><rect x="755.74" y="218.4" width="0.9" height="13.8" fill="#3cb371" opacity="0.75"/><rect x="755.24" y="219.3" width="1.9" height="12.1" fill="#3cb371"/><rect x="758.50" y="218.4" width="0.9" height="18.9" fill="#cb142f" opacity="0.75"/><rect x="758.00" y="219.3" width="1.9" height="14.6" fill="#cb142f"/><rect x="761.08" y="231.3" width="0.9" height="16.4" fill="#3cb371" opacity="0.75"/><rect x="760.58" y="232.2" width="1.9" height="1.7" fill="#3cb371"/><rect x="763.84" y="223.6" width="0.9" height="10.3" fill="#3cb371" opacity="0.75"/><rect x="763.34" y="231.3" width="1.9" height="1.7" fill="#3cb371"/><rect x="766.42" y="202.0" width="0.9" height="35.3" fill="#3cb371" opacity="0.75"/><rect x="765.92" y="206.3" width="1.9" height="25.8" fill="#3cb371"/><rect x="769.18" y="204.6" width="0.9" height="77.3" fill="#cb142f" opacity="0.75"/><rect x="768.68" y="205.5" width="1.9" height="11.2" fill="#cb142f"/><rect x="771.76" y="213.2" width="0.9" height="25.8" fill="#cb142f" opacity="0.75"/><rect x="771.26" y="215.8" width="1.9" height="22.4" fill="#cb142f"/><rect x="774.52" y="225.3" width="0.9" height="38.8" fill="#cb142f" opacity="0.75"/><rect x="774.02" y="237.4" width="1.9" height="21.5" fill="#cb142f"/><rect x="777.10" y="257.2" width="0.9" height="16.9" fill="#cb142f" opacity="0.75"/><rect x="776.60" y="258.0" width="1.9" height="15.3" fill="#cb142f"/><rect x="779.86" y="233.9" width="0.9" height="60.9" fill="#3cb371" opacity="0.75"/><rect x="779.36" y="259.0" width="1.9" height="10.8" fill="#3cb371"/><rect x="782.44" y="222.7" width="0.9" height="58.3" fill="#3cb371" opacity="0.75"/><rect x="781.94" y="240.8" width="1.9" height="20.7" fill="#3cb371"/><rect x="785.20" y="226.2" width="0.9" height="33.6" fill="#cb142f" opacity="0.75"/><rect x="784.70" y="240.8" width="1.9" height="2.6" fill="#cb142f"/><rect x="787.78" y="224.4" width="0.9" height="37.9" fill="#3cb371" opacity="0.75"/><rect x="787.28" y="225.3" width="1.9" height="18.1" fill="#3cb371"/><rect x="790.54" y="192.6" width="0.9" height="33.6" fill="#3cb371" opacity="0.75"/><rect x="790.04" y="207.2" width="1.9" height="18.1" fill="#3cb371"/><rect x="793.12" y="200.3" width="0.9" height="24.1" fill="#3cb371" opacity="0.75"/><rect x="792.62" y="201.2" width="1.9" height="6.0" fill="#3cb371"/><rect x="795.88" y="175.3" width="0.9" height="41.3" fill="#3cb371" opacity="0.75"/><rect x="795.38" y="176.2" width="1.9" height="25.0" fill="#3cb371"/><rect x="798.46" y="170.2" width="0.9" height="17.2" fill="#cb142f" opacity="0.75"/><rect x="797.96" y="173.6" width="1.9" height="12.9" fill="#cb142f"/><rect x="801.22" y="179.6" width="0.9" height="45.7" fill="#cb142f" opacity="0.75"/><rect x="800.72" y="184.8" width="1.9" height="39.6" fill="#cb142f"/><rect x="803.80" y="220.1" width="0.9" height="20.7" fill="#cb142f" opacity="0.75"/><rect x="803.30" y="224.4" width="1.9" height="12.1" fill="#cb142f"/><rect x="806.56" y="235.6" width="0.9" height="19.8" fill="#cb142f" opacity="0.75"/><rect x="806.06" y="236.5" width="1.9" height="7.8" fill="#cb142f"/><rect x="809.15" y="238.2" width="0.9" height="25.8" fill="#cb142f" opacity="0.75"/><rect x="808.65" y="243.4" width="1.9" height="2.6" fill="#cb142f"/><rect x="811.90" y="229.6" width="0.9" height="16.4" fill="#3cb371" opacity="0.75"/><rect x="811.40" y="230.5" width="1.9" height="14.6" fill="#3cb371"/><rect x="814.49" y="226.2" width="0.9" height="22.4" fill="#cb142f" opacity="0.75"/><rect x="813.99" y="231.3" width="1.9" height="16.4" fill="#cb142f"/><rect x="817.24" y="240.8" width="0.9" height="19.8" fill="#cb142f" opacity="0.75"/><rect x="816.74" y="246.8" width="1.9" height="9.5" fill="#cb142f"/><rect x="819.83" y="246.0" width="0.9" height="11.2" fill="#3cb371" opacity="0.75"/><rect x="819.33" y="246.8" width="1.9" height="9.5" fill="#3cb371"/><rect x="822.58" y="242.5" width="0.9" height="45.5" fill="#cb142f" opacity="0.75"/><rect x="822.08" y="245.1" width="1.9" height="41.9" fill="#cb142f"/><rect x="825.17" y="277.6" width="0.9" height="15.5" fill="#cb142f" opacity="0.75"/><rect x="824.67" y="286.2" width="1.9" height="1.7" fill="#cb142f"/><rect x="827.92" y="274.1" width="0.9" height="19.8" fill="#3cb371" opacity="0.75"/><rect x="827.42" y="278.4" width="1.9" height="10.3" fill="#3cb371"/><rect x="830.51" y="268.1" width="0.9" height="21.5" fill="#cb142f" opacity="0.75"/><rect x="830.01" y="278.4" width="1.9" height="6.0" fill="#cb142f"/><rect x="833.26" y="270.7" width="0.9" height="34.5" fill="#cb142f" opacity="0.75"/><rect x="832.76" y="283.6" width="1.9" height="14.6" fill="#cb142f"/><rect x="835.85" y="296.5" width="0.9" height="23.3" fill="#cb142f" opacity="0.75"/><rect x="835.35" y="297.4" width="1.9" height="21.5" fill="#cb142f"/><rect x="838.60" y="286.2" width="0.9" height="34.5" fill="#3cb371" opacity="0.75"/><rect x="838.10" y="318.0" width="1.9" height="1.2" fill="#3cb371"/><rect x="841.19" y="305.1" width="0.9" height="25.8" fill="#3cb371" opacity="0.75"/><rect x="840.69" y="306.0" width="1.9" height="12.1" fill="#3cb371"/><rect x="843.94" y="293.9" width="0.9" height="19.8" fill="#cb142f" opacity="0.75"/><rect x="843.44" y="306.0" width="1.9" height="6.9" fill="#cb142f"/><rect x="846.53" y="310.3" width="0.9" height="57.3" fill="#cb142f" opacity="0.75"/><rect x="846.03" y="317.2" width="1.9" height="46.9" fill="#cb142f"/><rect x="849.28" y="333.0" width="0.9" height="34.6" fill="#3cb371" opacity="0.75"/><rect x="848.78" y="334.4" width="1.9" height="30.6" fill="#3cb371"/><rect x="851.87" y="333.5" width="0.9" height="10.3" fill="#cb142f" opacity="0.75"/><rect x="851.37" y="334.4" width="1.9" height="8.6" fill="#cb142f"/><rect x="854.62" y="340.0" width="0.9" height="16.0" fill="#cb142f" opacity="0.75"/><rect x="854.12" y="341.3" width="1.9" height="13.3" fill="#cb142f"/><rect x="857.21" y="346.5" width="0.9" height="9.5" fill="#3cb371" opacity="0.75"/><rect x="856.71" y="347.8" width="1.9" height="6.8" fill="#3cb371"/><rect x="860.02" y="362.4" width="0.9" height="31.0" fill="#3cb371" opacity="0.75"/><rect x="859.52" y="373.6" width="1.9" height="4.0" fill="#3cb371"/><rect x="862.60" y="352.1" width="0.9" height="33.6" fill="#cb142f" opacity="0.75"/><rect x="862.10" y="373.6" width="1.9" height="11.2" fill="#cb142f"/><rect x="865.36" y="373.6" width="0.9" height="18.1" fill="#3cb371" opacity="0.75"/><rect x="864.86" y="374.5" width="1.9" height="9.5" fill="#3cb371"/><rect x="867.94" y="360.7" width="0.9" height="14.6" fill="#3cb371" opacity="0.75"/><rect x="867.44" y="368.4" width="1.9" height="6.0" fill="#3cb371"/><rect x="870.70" y="359.8" width="0.9" height="13.8" fill="#cb142f" opacity="0.75"/><rect x="870.20" y="366.7" width="1.9" height="6.0" fill="#cb142f"/><rect x="873.28" y="370.1" width="0.9" height="12.1" fill="#cb142f" opacity="0.75"/><rect x="872.78" y="371.0" width="1.9" height="10.3" fill="#cb142f"/><rect x="876.04" y="376.2" width="0.9" height="6.9" fill="#cb142f" opacity="0.75"/><rect x="875.54" y="380.5" width="1.9" height="1.7" fill="#cb142f"/><rect x="878.62" y="379.6" width="0.9" height="44.8" fill="#cb142f" opacity="0.75"/><rect x="878.12" y="380.5" width="1.9" height="35.3" fill="#cb142f"/><rect x="881.38" y="413.2" width="0.9" height="30.1" fill="#cb142f" opacity="0.75"/><rect x="880.88" y="414.1" width="1.9" height="11.2" fill="#cb142f"/><rect x="883.96" y="421.0" width="0.9" height="12.1" fill="#cb142f" opacity="0.75"/><rect x="883.46" y="424.4" width="1.9" height="1.4" fill="#cb142f"/><rect x="886.72" y="423.5" width="0.9" height="13.8" fill="#cb142f" opacity="0.75"/><rect x="886.22" y="424.4" width="1.9" height="12.1" fill="#cb142f"/><rect x="889.30" y="429.6" width="0.9" height="17.1" fill="#cb142f" opacity="0.75"/><rect x="888.80" y="433.0" width="1.9" height="5.2" fill="#cb142f"/><rect x="892.06" y="412.4" width="0.9" height="25.8" fill="#3cb371" opacity="0.75"/><rect x="891.56" y="417.5" width="1.9" height="19.8" fill="#3cb371"/><rect x="894.64" y="399.4" width="0.9" height="25.8" fill="#3cb371" opacity="0.75"/><rect x="894.14" y="400.3" width="1.9" height="17.2" fill="#3cb371"/><rect x="897.40" y="388.2" width="0.9" height="12.9" fill="#3cb371" opacity="0.75"/><rect x="896.90" y="389.1" width="1.9" height="11.2" fill="#3cb371"/><rect x="899.98" y="366.7" width="0.9" height="24.1" fill="#3cb371" opacity="0.75"/><rect x="899.48" y="388.2" width="1.9" height="1.7" fill="#3cb371"/><rect x="902.74" y="371.9" width="0.9" height="20.7" fill="#cb142f" opacity="0.75"/><rect x="902.24" y="372.7" width="1.9" height="18.9" fill="#cb142f"/><rect x="905.32" y="378.8" width="0.9" height="18.9" fill="#cb142f" opacity="0.75"/><rect x="904.82" y="382.2" width="1.9" height="14.6" fill="#cb142f"/><rect x="908.08" y="390.8" width="0.9" height="7.8" fill="#3cb371" opacity="0.75"/><rect x="907.58" y="391.7" width="1.9" height="5.2" fill="#3cb371"/><rect x="910.66" y="377.9" width="0.9" height="29.3" fill="#cb142f" opacity="0.75"/><rect x="910.16" y="391.7" width="1.9" height="14.6" fill="#cb142f"/><rect x="913.42" y="394.3" width="0.9" height="12.1" fill="#3cb371" opacity="0.75"/><rect x="912.92" y="395.1" width="1.9" height="10.3" fill="#3cb371"/><rect x="916.00" y="391.7" width="0.9" height="5.2" fill="#3cb371" opacity="0.75"/><rect x="915.50" y="394.3" width="1.9" height="1.2" fill="#3cb371"/><rect x="918.76" y="378.8" width="0.9" height="17.2" fill="#3cb371" opacity="0.75"/><rect x="918.26" y="384.8" width="1.9" height="10.3" fill="#3cb371"/><rect x="921.34" y="380.5" width="0.9" height="7.8" fill="#cb142f" opacity="0.75"/><rect x="920.84" y="383.9" width="1.9" height="3.4" fill="#cb142f"/><rect x="924.10" y="381.3" width="0.9" height="19.8" fill="#cb142f" opacity="0.75"/><rect x="923.60" y="385.7" width="1.9" height="7.8" fill="#cb142f"/><rect x="926.68" y="392.5" width="0.9" height="6.9" fill="#cb142f" opacity="0.75"/><rect x="926.18" y="393.4" width="1.9" height="3.4" fill="#cb142f"/><rect x="929.44" y="393.9" width="0.9" height="9.0" fill="#3cb371" opacity="0.75"/><rect x="928.94" y="394.8" width="1.9" height="1.2" fill="#3cb371"/><rect x="932.02" y="391.7" width="0.9" height="6.9" fill="#cb142f" opacity="0.75"/><rect x="931.52" y="394.3" width="1.9" height="2.6" fill="#cb142f"/><rect x="934.78" y="390.0" width="0.9" height="19.8" fill="#cb142f" opacity="0.75"/><rect x="934.28" y="396.0" width="1.9" height="8.6" fill="#cb142f"/><rect x="937.36" y="400.3" width="0.9" height="10.3" fill="#3cb371" opacity="0.75"/><rect x="936.86" y="402.9" width="1.9" height="1.2" fill="#3cb371"/><rect x="940.12" y="383.9" width="0.9" height="20.7" fill="#3cb371" opacity="0.75"/><rect x="939.62" y="384.8" width="1.9" height="18.9" fill="#3cb371"/><rect x="942.70" y="361.5" width="0.9" height="25.0" fill="#3cb371" opacity="0.75"/><rect x="942.20" y="375.3" width="1.9" height="10.3" fill="#3cb371"/><rect x="945.46" y="346.0" width="0.9" height="31.0" fill="#3cb371" opacity="0.75"/><rect x="944.96" y="361.5" width="1.9" height="14.6" fill="#3cb371"/><rect x="948.04" y="358.9" width="0.9" height="30.1" fill="#cb142f" opacity="0.75"/><rect x="947.54" y="363.3" width="1.9" height="13.8" fill="#cb142f"/><rect x="950.80" y="374.5" width="0.9" height="13.8" fill="#cb142f" opacity="0.75"/><rect x="950.30" y="376.2" width="1.9" height="11.2" fill="#cb142f"/><rect x="953.38" y="377.0" width="0.9" height="18.1" fill="#3cb371" opacity="0.75"/><rect x="952.88" y="377.9" width="1.9" height="8.6" fill="#3cb371"/><rect x="956.14" y="360.7" width="0.9" height="43.1" fill="#cb142f" opacity="0.75"/><rect x="955.64" y="377.0" width="1.9" height="9.5" fill="#cb142f"/><rect x="958.72" y="365.0" width="0.9" height="21.5" fill="#3cb371" opacity="0.75"/><rect x="958.22" y="365.8" width="1.9" height="19.8" fill="#3cb371"/><rect x="961.48" y="362.4" width="0.9" height="30.1" fill="#cb142f" opacity="0.75"/><rect x="960.98" y="364.1" width="1.9" height="21.5" fill="#cb142f"/><rect x="964.06" y="375.3" width="0.9" height="18.1" fill="#cb142f" opacity="0.75"/><rect x="963.56" y="384.8" width="1.9" height="2.6" fill="#cb142f"/><rect x="966.82" y="386.5" width="0.9" height="22.4" fill="#cb142f" opacity="0.75"/><rect x="966.32" y="387.4" width="1.9" height="13.8" fill="#cb142f"/><rect x="969.40" y="395.1" width="0.9" height="11.2" fill="#cb142f" opacity="0.75"/><rect x="968.90" y="400.3" width="1.9" height="2.6" fill="#cb142f"/><rect x="972.16" y="390.8" width="0.9" height="18.1" fill="#3cb371" opacity="0.75"/><rect x="971.66" y="395.1" width="1.9" height="7.8" fill="#3cb371"/><rect x="974.74" y="390.0" width="0.9" height="6.0" fill="#3cb371" opacity="0.75"/><rect x="974.24" y="393.4" width="1.9" height="1.7" fill="#3cb371"/><rect x="977.50" y="392.5" width="0.9" height="23.3" fill="#cb142f" opacity="0.75"/><rect x="977.00" y="393.4" width="1.9" height="11.2" fill="#cb142f"/><rect x="980.08" y="390.0" width="0.9" height="15.5" fill="#3cb371" opacity="0.75"/><rect x="979.58" y="390.8" width="1.9" height="13.8" fill="#3cb371"/><rect x="982.84" y="388.2" width="0.9" height="4.0" fill="#3cb371" opacity="0.75"/><rect x="982.34" y="389.1" width="1.9" height="2.2" fill="#3cb371"/><rect x="985.42" y="377.0" width="0.9" height="13.8" fill="#3cb371" opacity="0.75"/><rect x="984.92" y="379.6" width="1.9" height="10.3" fill="#3cb371"/><rect x="988.18" y="371.0" width="0.9" height="10.3" fill="#3cb371" opacity="0.75"/><rect x="987.68" y="378.8" width="1.9" height="1.7" fill="#3cb371"/><rect x="990.76" y="369.3" width="0.9" height="11.2" fill="#3cb371" opacity="0.75"/><rect x="990.26" y="370.1" width="1.9" height="9.5" fill="#3cb371"/><rect x="993.52" y="368.4" width="0.9" height="13.8" fill="#cb142f" opacity="0.75"/><rect x="993.02" y="369.3" width="1.9" height="12.1" fill="#cb142f"/><rect x="996.10" y="356.4" width="0.9" height="25.5" fill="#3cb371" opacity="0.75"/><rect x="995.60" y="358.1" width="1.9" height="22.9" fill="#3cb371"/><rect x="998.86" y="355.5" width="0.9" height="7.8" fill="#3cb371" opacity="0.75"/><rect x="998.36" y="356.4" width="1.9" height="2.6" fill="#3cb371"/><rect x="1001.44" y="351.2" width="0.9" height="11.2" fill="#3cb371" opacity="0.75"/><rect x="1000.94" y="355.5" width="1.9" height="1.7" fill="#3cb371"/><rect x="1004.20" y="346.0" width="0.9" height="15.5" fill="#3cb371" opacity="0.75"/><rect x="1003.70" y="352.1" width="1.9" height="4.3" fill="#3cb371"/><rect x="1007.75" y="336.0" width="0.9" height="20.5" fill="#3cb371" opacity="0.75"/><rect x="1007.25" y="337.0" width="1.9" height="15.6" fill="#3cb371"/><rect x="1010.45" y="330.8" width="0.9" height="16.9" fill="#cb142f" opacity="0.75"/><rect x="1009.95" y="337.0" width="1.9" height="7.0" fill="#cb142f"/><rect x="1013.05" y="338.0" width="0.9" height="12.2" fill="#3cb371" opacity="0.75"/><rect x="1012.55" y="338.9" width="1.9" height="4.4" fill="#3cb371"/><rect x="1015.85" y="322.6" width="0.9" height="17.4" fill="#3cb371" opacity="0.75"/><rect x="1015.35" y="325.1" width="1.9" height="13.8" fill="#3cb371"/><rect x="1018.45" y="317.5" width="0.9" height="9.5" fill="#3cb371" opacity="0.75"/><rect x="1017.95" y="318.9" width="1.9" height="6.9" fill="#3cb371"/><rect x="1021.15" y="303.8" width="0.9" height="16.2" fill="#3cb371" opacity="0.75"/><rect x="1020.65" y="305.0" width="1.9" height="13.9" fill="#3cb371"/><rect x="1023.85" y="300.0" width="0.9" height="20.5" fill="#cb142f" opacity="0.75"/><rect x="1023.35" y="305.0" width="1.9" height="14.5" fill="#cb142f"/><rect x="1026.55" y="317.5" width="0.9" height="40.2" fill="#cb142f" opacity="0.75"/><rect x="1026.05" y="318.9" width="1.9" height="12.5" fill="#cb142f"/><rect x="1029.15" y="302.6" width="0.9" height="35.1" fill="#3cb371" opacity="0.75"/><rect x="1028.65" y="327.0" width="1.9" height="2.0" fill="#3cb371"/><rect x="1031.95" y="272.3" width="0.9" height="56.7" fill="#3cb371" opacity="0.75"/><rect x="1031.45" y="293.2" width="1.9" height="34.4" fill="#3cb371"/><rect x="1034.55" y="252.5" width="0.9" height="47.4" fill="#3cb371" opacity="0.75"/><rect x="1034.05" y="258.2" width="1.9" height="35.7" fill="#3cb371"/><rect x="1037.25" y="248.7" width="0.9" height="11.3" fill="#3cb371" opacity="0.75"/><rect x="1036.75" y="250.6" width="1.9" height="8.3" fill="#3cb371"/><rect x="1039.85" y="243.0" width="0.9" height="21.0" fill="#cb142f" opacity="0.75"/><rect x="1039.35" y="250.6" width="1.9" height="12.1" fill="#cb142f"/><rect x="1042.55" y="240.4" width="0.9" height="29.9" fill="#3cb371" opacity="0.75"/><rect x="1042.05" y="250.6" width="1.9" height="10.8" fill="#3cb371"/><rect x="1045.25" y="243.6" width="0.9" height="8.4" fill="#3cb371" opacity="0.75"/><rect x="1044.75" y="246.2" width="1.9" height="4.4" fill="#3cb371"/><rect x="1048.05" y="241.7" width="0.9" height="39.4" fill="#cb142f" opacity="0.75"/><rect x="1047.55" y="246.2" width="1.9" height="31.7" fill="#cb142f"/><rect x="1050.65" y="265.9" width="0.9" height="20.3" fill="#3cb371" opacity="0.75"/><rect x="1050.15" y="276.0" width="1.9" height="1.9" fill="#3cb371"/><rect x="1053.35" y="248.7" width="0.9" height="29.3" fill="#3cb371" opacity="0.75"/><rect x="1052.85" y="255.0" width="1.9" height="21.7" fill="#3cb371"/><rect x="1056.05" y="251.0" width="0.9" height="23.8" fill="#cb142f" opacity="0.75"/><rect x="1055.55" y="252.5" width="1.9" height="17.8" fill="#cb142f"/><rect x="1058.75" y="256.3" width="0.9" height="15.7" fill="#3cb371" opacity="0.75"/><rect x="1058.25" y="260.1" width="1.9" height="10.8" fill="#3cb371"/><rect x="1061.35" y="258.2" width="0.9" height="20.4" fill="#3cb371" opacity="0.75"/><rect x="1060.85" y="264.6" width="1.9" height="1.9" fill="#3cb371"/><rect x="1064.05" y="244.2" width="0.9" height="17.3" fill="#3cb371" opacity="0.75"/><rect x="1063.55" y="249.3" width="1.9" height="10.8" fill="#3cb371"/><rect x="1066.75" y="229.6" width="0.9" height="20.9" fill="#3cb371" opacity="0.75"/><rect x="1066.25" y="232.2" width="1.9" height="17.1" fill="#3cb371"/><rect x="1069.35" y="218.4" width="0.9" height="14.6" fill="#3cb371" opacity="0.75"/><rect x="1068.85" y="223.4" width="1.9" height="8.4" fill="#3cb371"/><rect x="1072.05" y="221.5" width="0.9" height="6.4" fill="#cb142f" opacity="0.75"/><rect x="1071.55" y="222.7" width="1.9" height="1.7" fill="#cb142f"/><rect x="1074.35" y="205.5" width="0.9" height="18.5" fill="#3cb371" opacity="0.75"/><rect x="1073.85" y="206.3" width="1.9" height="16.4" fill="#3cb371"/><rect x="1077.05" y="186.5" width="0.9" height="21.0" fill="#3cb371" opacity="0.75"/><rect x="1076.55" y="188.2" width="1.9" height="18.1" fill="#3cb371"/><rect x="1079.65" y="180.0" width="0.9" height="13.0" fill="#3cb371" opacity="0.75"/><rect x="1079.15" y="181.3" width="1.9" height="10.4" fill="#3cb371"/><rect x="1082.45" y="168.4" width="0.9" height="15.1" fill="#3cb371" opacity="0.75"/><rect x="1081.95" y="177.0" width="1.9" height="5.2" fill="#3cb371"/><rect x="1085.05" y="168.4" width="0.9" height="15.5" fill="#3cb371" opacity="0.75"/><rect x="1084.55" y="176.2" width="1.9" height="1.4" fill="#3cb371"/><rect x="1087.75" y="171.9" width="0.9" height="21.5" fill="#cb142f" opacity="0.75"/><rect x="1087.25" y="173.6" width="1.9" height="4.3" fill="#cb142f"/><rect x="1090.35" y="171.9" width="0.9" height="22.6" fill="#cb142f" opacity="0.75"/><rect x="1089.85" y="176.2" width="1.9" height="17.2" fill="#cb142f"/><rect x="1093.15" y="186.5" width="0.9" height="31.0" fill="#cb142f" opacity="0.75"/><rect x="1092.65" y="192.5" width="1.9" height="18.1" fill="#cb142f"/><rect x="1095.75" y="190.0" width="0.9" height="22.0" fill="#3cb371" opacity="0.75"/><rect x="1095.25" y="196.8" width="1.9" height="13.8" fill="#3cb371"/><rect x="1098.45" y="194.3" width="0.9" height="6.0" fill="#3cb371" opacity="0.75"/><rect x="1097.95" y="196.8" width="1.9" height="1.8" fill="#3cb371"/><rect x="1101.05" y="195.5" width="0.9" height="5.0" fill="#cb142f" opacity="0.75"/><rect x="1100.55" y="196.5" width="1.9" height="2.9" fill="#cb142f"/><rect x="1103.75" y="196.5" width="0.9" height="4.0" fill="#3cb371" opacity="0.75"/><rect x="1103.25" y="197.7" width="1.9" height="1.7" fill="#3cb371"/><rect x="1106.35" y="189.1" width="0.9" height="7.4" fill="#3cb371" opacity="0.75"/><rect x="1105.85" y="193.4" width="1.9" height="1.7" fill="#3cb371"/><rect x="1109.15" y="192.3" width="0.9" height="13.4" fill="#cb142f" opacity="0.75"/><rect x="1108.65" y="193.4" width="1.9" height="11.2" fill="#cb142f"/><rect x="1111.75" y="202.5" width="0.9" height="14.2" fill="#cb142f" opacity="0.75"/><rect x="1111.25" y="203.7" width="1.9" height="2.6" fill="#cb142f"/><rect x="1114.45" y="202.9" width="0.9" height="6.9" fill="#cb142f" opacity="0.75"/><rect x="1113.95" y="203.7" width="1.9" height="5.2" fill="#cb142f"/><rect x="1117.05" y="195.0" width="0.9" height="13.3" fill="#3cb371" opacity="0.75"/><rect x="1116.55" y="196.0" width="1.9" height="11.2" fill="#3cb371"/><rect x="1119.85" y="180.2" width="0.9" height="17.8" fill="#3cb371" opacity="0.75"/><rect x="1119.35" y="181.3" width="1.9" height="15.5" fill="#3cb371"/><rect x="1122.45" y="181.0" width="0.9" height="7.5" fill="#cb142f" opacity="0.75"/><rect x="1121.95" y="182.2" width="1.9" height="5.2" fill="#cb142f"/><rect x="1125.15" y="178.5" width="0.9" height="9.2" fill="#3cb371" opacity="0.75"/><rect x="1124.65" y="179.6" width="1.9" height="6.9" fill="#3cb371"/><rect x="1127.75" y="164.0" width="0.9" height="17.6" fill="#3cb371" opacity="0.75"/><rect x="1127.25" y="165.0" width="1.9" height="15.5" fill="#3cb371"/><rect x="1130.45" y="145.2" width="0.9" height="21.8" fill="#3cb371" opacity="0.75"/><rect x="1129.95" y="153.8" width="1.9" height="12.0" fill="#3cb371"/><rect x="1133.05" y="152.7" width="0.9" height="12.5" fill="#cb142f" opacity="0.75"/><rect x="1132.55" y="153.8" width="1.9" height="10.3" fill="#cb142f"/><rect x="1135.85" y="152.1" width="0.9" height="13.1" fill="#3cb371" opacity="0.75"/><rect x="1135.35" y="154.6" width="1.9" height="9.5" fill="#3cb371"/><rect x="1138.45" y="154.0" width="0.9" height="11.2" fill="#cb142f" opacity="0.75"/><rect x="1137.95" y="155.2" width="1.9" height="8.9" fill="#cb142f"/><rect x="1141.15" y="157.2" width="0.9" height="8.0" fill="#3cb371" opacity="0.75"/><rect x="1140.65" y="159.8" width="1.9" height="4.3" fill="#3cb371"/><rect x="1143.75" y="156.4" width="0.9" height="8.6" fill="#cb142f" opacity="0.75"/><rect x="1143.25" y="157.2" width="1.9" height="4.3" fill="#cb142f"/><rect x="1146.55" y="159.6" width="0.9" height="14.2" fill="#cb142f" opacity="0.75"/><rect x="1146.05" y="160.7" width="1.9" height="12.0" fill="#cb142f"/><rect x="1149.15" y="170.0" width="0.9" height="11.3" fill="#cb142f" opacity="0.75"/><rect x="1148.65" y="171.0" width="1.9" height="9.5" fill="#cb142f"/><rect x="1151.85" y="174.2" width="0.9" height="10.6" fill="#3cb371" opacity="0.75"/><rect x="1151.35" y="175.3" width="1.9" height="5.2" fill="#3cb371"/><rect x="1154.45" y="169.3" width="0.9" height="7.7" fill="#3cb371" opacity="0.75"/><rect x="1153.95" y="171.9" width="1.9" height="4.3" fill="#3cb371"/><rect x="1157.15" y="164.0" width="0.9" height="14.8" fill="#3cb371" opacity="0.75"/><rect x="1156.65" y="165.0" width="1.9" height="6.9" fill="#3cb371"/><rect x="1159.75" y="164.0" width="0.9" height="5.5" fill="#222" opacity="0.75"/><rect x="1159.25" y="165.0" width="1.9" height="3.4" fill="#222"/><rect x="1162.55" y="161.3" width="0.9" height="5.7" fill="#3cb371" opacity="0.75"/><rect x="1162.05" y="162.4" width="1.9" height="3.4" fill="#3cb371"/><rect x="1165.15" y="146.7" width="0.9" height="17.7" fill="#3cb371" opacity="0.75"/><rect x="1164.65" y="147.8" width="1.9" height="15.5" fill="#3cb371"/><rect x="1167.85" y="146.0" width="0.9" height="4.0" fill="#3cb371" opacity="0.75"/><rect x="1167.35" y="146.9" width="1.9" height="1.7" fill="#3cb371"/><rect x="1170.45" y="141.6" width="0.9" height="13.0" fill="#cb142f" opacity="0.75"/><rect x="1169.95" y="146.0" width="1.9" height="6.9" fill="#cb142f"/><rect x="1173.25" y="148.4" width="0.9" height="5.6" fill="#3cb371" opacity="0.75"/><rect x="1172.75" y="149.5" width="1.9" height="3.4" fill="#3cb371"/><rect x="1175.85" y="129.6" width="0.9" height="20.1" fill="#3cb371" opacity="0.75"/><rect x="1175.35" y="133.9" width="1.9" height="14.7" fill="#3cb371"/><rect x="1178.55" y="131.3" width="0.9" height="8.9" fill="#cb142f" opacity="0.75"/><rect x="1178.05" y="137.3" width="1.9" height="1.8" fill="#cb142f"/><rect x="1181.15" y="126.8" width="0.9" height="12.5" fill="#3cb371" opacity="0.75"/><rect x="1180.65" y="127.9" width="1.9" height="10.3" fill="#3cb371"/><rect x="1183.85" y="124.4" width="0.9" height="14.7" fill="#cb142f" opacity="0.75"/><rect x="1183.35" y="126.1" width="1.9" height="6.9" fill="#cb142f"/><rect x="1186.45" y="132.0" width="0.9" height="9.6" fill="#cb142f" opacity="0.75"/><rect x="1185.95" y="133.0" width="1.9" height="5.2" fill="#cb142f"/><rect x="1189.25" y="127.0" width="0.9" height="8.8" fill="#cb142f" opacity="0.75"/><rect x="1188.75" y="133.0" width="1.9" height="1.7" fill="#cb142f"/><rect x="1191.85" y="129.6" width="0.9" height="11.2" fill="#cb142f" opacity="0.75"/><rect x="1191.35" y="133.9" width="1.9" height="5.2" fill="#cb142f"/><rect x="1194.55" y="128.5" width="0.9" height="11.4" fill="#3cb371" opacity="0.75"/><rect x="1194.05" y="129.6" width="1.9" height="7.7" fill="#3cb371"/><rect x="1197.15" y="122.7" width="0.9" height="8.8" fill="#3cb371" opacity="0.75"/><rect x="1196.65" y="127.0" width="1.9" height="3.4" fill="#3cb371"/><rect x="1199.95" y="117.3" width="0.9" height="11.7" fill="#3cb371" opacity="0.75"/><rect x="1199.45" y="118.4" width="1.9" height="9.5" fill="#3cb371"/><rect x="1202.55" y="107.8" width="0.9" height="21.8" fill="#3cb371" opacity="0.75"/><rect x="1202.05" y="108.9" width="1.9" height="10.3" fill="#3cb371"/><rect x="1205.25" y="96.8" width="0.9" height="17.3" fill="#3cb371" opacity="0.75"/><rect x="1204.75" y="105.5" width="1.9" height="4.3" fill="#3cb371"/><rect x="1207.85" y="91.7" width="0.9" height="20.0" fill="#3cb371" opacity="0.75"/><rect x="1207.35" y="99.4" width="1.9" height="11.2" fill="#3cb371"/><rect x="1210.65" y="89.1" width="0.9" height="11.4" fill="#3cb371" opacity="0.75"/><rect x="1210.15" y="91.7" width="1.9" height="7.7" fill="#3cb371"/><rect x="1213.25" y="86.5" width="0.9" height="7.8" fill="#222" opacity="0.75"/><rect x="1212.75" y="90.8" width="1.9" height="1.7" fill="#222"/><rect x="1215.95" y="90.6" width="0.9" height="12.5" fill="#cb142f" opacity="0.75"/><rect x="1215.45" y="91.7" width="1.9" height="10.3" fill="#cb142f"/><rect x="1218.55" y="87.4" width="0.9" height="15.7" fill="#cb142f" opacity="0.75"/><rect x="1218.05" y="95.1" width="1.9" height="6.9" fill="#cb142f"/><rect x="1221.25" y="88.9" width="0.9" height="13.4" fill="#3cb371" opacity="0.75"/><rect x="1220.75" y="90.0" width="1.9" height="11.2" fill="#3cb371"/><rect x="1223.85" y="85.7" width="0.9" height="20.9" fill="#cb142f" opacity="0.75"/><rect x="1223.35" y="89.1" width="1.9" height="16.4" fill="#cb142f"/><rect x="1226.65" y="83.9" width="0.9" height="21.8" fill="#3cb371" opacity="0.75"/><rect x="1226.15" y="85.7" width="1.9" height="18.9" fill="#3cb371"/><rect x="1229.25" y="84.6" width="0.9" height="14.8" fill="#cb142f" opacity="0.75"/><rect x="1228.75" y="85.7" width="1.9" height="1.7" fill="#cb142f"/><rect x="1231.95" y="79.4" width="0.9" height="13.1" fill="#3cb371" opacity="0.75"/><rect x="1231.45" y="80.5" width="1.9" height="6.9" fill="#3cb371"/><rect x="1234.55" y="68.4" width="0.9" height="14.0" fill="#3cb371" opacity="0.75"/><rect x="1234.05" y="71.9" width="1.9" height="9.4" fill="#3cb371"/><rect x="1237.45" y="61.2" width="0.9" height="14.0" fill="#3cb371" opacity="0.75"/><rect x="1236.95" y="61.6" width="1.9" height="12.1" fill="#3cb371"/></g>
<rect x="0" y="457.0" width="1245" height="1.7" fill="#8ea3a3"/>
<rect x="0" y="458.7" width="1245" height="1.2" fill="#3a4e4e"/>
<line x1="0" y1="496.5" x2="1245" y2="496.5" stroke="#bccfcf" stroke-width="1" stroke-dasharray="1.6,2.4"/>
<line x1="0" y1="544.8" x2="1245" y2="544.8" stroke="#bccfcf" stroke-width="1" stroke-dasharray="1.6,2.4"/>
<polyline points="0.0,518.2 2.6,524.3 5.2,515.7 7.8,510.5 10.3,509.3 12.9,510.5 15.8,512.2 18.6,510.5 21.5,502.4 24.1,506.2 26.7,506.5 29.3,507.6 31.9,505.8 35.0,516.5 37.6,515.1 40.3,519.1 42.9,503.1 45.7,511.3 48.4,522.5 51.0,527.2 53.7,516.5 56.5,516.9 59.1,523.4 61.8,534.1 64.6,532.4 67.2,538.0 69.9,544.4 72.5,544.4 75.3,544.4 77.5,539.8 80.3,542.4 82.9,542.4 85.6,543.2 88.7,540.3 91.3,541.0 93.9,536.3 96.5,526.8 99.1,523.7 101.6,526.0 104.4,529.1 107.3,526.0 109.9,523.7 112.7,521.3 115.2,521.7 118.0,523.1 120.6,519.1 123.3,518.6 125.9,519.6 128.7,518.6 131.3,515.7 134.0,515.7 136.6,518.2 139.4,514.4 141.9,520.8 144.7,511.7 147.3,513.9 150.0,516.5 152.6,519.1 155.4,518.2 158.0,534.6 160.7,538.9 163.3,539.3 166.1,548.9 168.8,546.1 171.4,545.8 174.0,545.8 176.6,541.5 179.3,538.0 181.9,541.5 184.7,535.8 187.3,538.6 190.0,532.9 192.6,532.0 195.3,532.9 197.9,537.5 200.7,532.0 203.3,526.8 206.0,523.4 208.6,524.3 211.4,523.1 214.0,526.8 216.7,535.5 219.6,541.0 221.9,531.2 224.5,525.1 227.4,520.8 230.2,528.6 232.7,531.2 235.3,531.7 238.3,526.5 240.8,533.4 243.4,534.6 246.0,535.8 248.8,537.5 251.5,515.7 254.1,510.5 256.9,508.2 259.4,516.5 262.4,525.5 265.0,523.4 267.5,522.5 270.1,521.7 272.7,519.6 275.3,512.2 278.2,502.4 280.8,505.8 283.6,510.0 286.1,506.5 289.1,505.3 291.7,511.3 294.2,511.7 296.8,500.1 299.4,499.6 302.3,501.5 304.9,500.1 307.5,498.9 310.1,499.3 312.7,493.3 315.3,492.4 318.4,498.9 320.9,497.6 323.5,498.4 326.1,496.7 328.7,496.7 331.3,499.3 334.2,502.4 336.8,501.4 339.4,499.6 342.1,498.4 344.7,496.7 347.6,490.7 350.2,489.8 353.2,487.6 355.9,499.6 358.5,499.6 361.1,501.9 363.7,503.1 366.6,504.5 369.2,501.5 371.8,501.9 374.3,506.5 377.3,511.3 379.9,510.5 382.4,510.8 385.2,515.1 387.8,513.9 390.4,512.7 393.3,507.0 395.9,509.6 398.5,512.2 401.0,512.7 403.6,514.4 406.2,513.4 409.1,520.8 412.2,527.7 414.8,525.5 417.4,524.3 420.0,524.3 422.6,521.7 425.2,520.0 428.1,516.5 430.7,513.9 432.9,513.1 435.0,510.5 438.6,505.0 441.4,511.3 444.1,516.9 446.7,515.7 449.3,535.1 451.9,531.2 455.0,546.7 457.6,539.8 460.3,531.7 462.7,533.4 465.5,543.2 468.2,546.7 470.8,548.4 473.4,543.2 476.2,536.3 478.8,538.0 481.3,534.6 483.9,537.2 486.8,526.0 489.4,526.8 492.4,519.1 495.1,526.0 497.7,532.0 500.3,531.7 502.9,530.3 505.5,529.9 508.2,522.5 510.8,519.1 513.4,521.7 516.1,526.0 518.7,530.3 521.5,523.1 524.2,532.0 526.8,533.7 529.6,529.4 532.2,529.4 534.7,544.9 537.3,548.4 540.6,553.9 543.2,548.4 545.8,547.9 548.3,543.2 551.1,544.4 553.7,540.6 556.3,535.8 559.2,531.7 561.8,535.1 564.4,538.0 567.1,535.5 569.7,539.3 572.3,539.8 575.0,541.0 577.6,541.5 580.4,547.2 583.0,547.2 585.6,544.4 588.1,544.4 591.1,547.2 593.7,532.4 596.2,531.7 598.8,522.5 601.7,516.5 604.3,516.9 606.9,516.5 609.7,518.2 612.3,516.9 615.2,513.4 617.8,514.8 620.4,516.2 622.9,514.4 625.9,512.7 628.4,510.5 631.2,507.4 633.8,508.8 636.4,512.2 639.0,517.4 641.9,525.1 644.5,520.0 647.1,516.2 650.0,520.0 652.4,516.2 655.0,514.8 657.7,519.1 660.5,527.7 663.1,524.3 665.7,523.4 668.4,524.8 671.2,526.8 673.8,526.0 676.5,531.7 679.1,530.3 681.9,531.2 684.6,522.5 687.2,523.1 689.8,517.4 692.7,512.2 695.3,511.0 698.1,520.8 700.6,514.4 703.2,509.6 705.8,512.2 708.7,505.3 711.3,499.3 713.9,496.7 716.5,498.4 719.1,497.2 722.0,505.3 724.6,505.3 727.2,505.3 729.9,500.1 732.5,507.0 735.1,513.1 737.7,516.2 740.6,516.9 743.2,508.8 745.8,509.3 748.4,515.1 751.1,523.4 753.9,530.3 756.6,524.8 759.6,529.9 762.1,529.4 764.7,528.6 767.7,516.5 770.2,521.3 772.8,528.6 775.4,535.1 778.0,538.6 780.6,533.7 783.3,526.8 785.9,526.5 788.5,520.0 791.4,513.1 794.0,510.5 797.1,504.5 799.7,508.8 802.1,521.3 804.7,525.5 807.3,527.7 810.0,528.6 813.0,523.4 815.5,527.7 818.1,530.3 820.7,527.2 823.6,537.2 826.2,537.2 829.3,534.1 831.9,536.3 834.5,540.3 837.4,543.7 840.0,543.2 842.6,538.6 845.2,542.4 847.8,549.6 850.5,538.6 853.1,539.3 855.7,541.5 858.3,540.3 861.2,544.4 863.8,546.1 866.5,542.4 869.5,539.8 872.1,540.6 874.6,542.4 877.2,543.2 880.3,550.1 882.9,551.0 885.5,551.8 888.1,553.2 890.7,553.5 893.2,542.4 895.8,534.6 898.4,528.6 901.3,522.5 903.9,526.0 906.5,529.9 909.1,529.4 912.0,532.4 914.6,529.4 917.2,528.2 919.8,524.3 922.4,524.8 925.1,526.8 927.7,528.2 930.3,528.2 933.2,528.2 936.1,531.7 938.7,530.3 941.3,520.0 943.9,514.8 946.6,509.6 949.2,516.5 952.2,521.3 954.7,518.2 957.3,522.5 960.3,514.4 962.8,521.3 965.4,523.4 968.2,528.6 970.8,529.4 973.4,525.1 975.9,524.3 978.9,529.1 981.4,522.5 984.0,520.0 986.6,516.5 989.5,516.2 992.1,512.2 994.7,517.4 997.5,508.8 1000.1,507.9 1002.6,507.0 1005.2,505.8 1008.5,500.1 1011.1,504.5 1013.7,502.7 1016.2,497.6 1018.8,495.0 1021.4,492.0 1024.0,500.7 1026.8,508.2 1029.3,508.2 1031.9,497.6 1034.8,488.6 1037.4,488.1 1040.4,494.1 1042.9,491.5 1045.5,491.5 1048.3,506.5 1050.9,506.2 1053.5,501.0 1056.4,507.0 1059.0,505.0 1061.6,504.5 1064.1,502.4 1067.1,497.6 1069.6,495.5 1072.7,495.8 1075.3,491.5 1077.9,488.1 1080.0,487.2 1083.3,487.2 1085.8,486.4 1088.4,488.6 1091.0,497.6 1093.8,507.0 1096.5,503.6 1099.1,503.1 1101.7,503.6 1104.3,504.1 1106.9,502.4 1109.6,509.3 1112.2,510.5 1115.1,510.5 1117.7,506.2 1120.3,501.0 1122.9,501.9 1125.5,499.3 1128.0,495.8 1131.0,492.0 1133.6,497.6 1136.3,496.7 1138.9,501.9 1141.5,501.5 1144.1,503.6 1147.0,508.8 1149.9,513.6 1152.5,512.2 1155.1,509.6 1157.8,506.5 1160.4,506.2 1163.0,505.3 1165.6,500.1 1168.2,497.9 1171.1,501.9 1173.7,499.6 1176.6,495.8 1179.2,495.8 1181.8,492.4 1184.5,502.4 1187.1,500.7 1189.7,501.9 1192.6,503.2 1195.2,500.7 1197.8,498.4 1200.7,494.6 1203.3,492.0 1205.9,489.3 1208.5,486.9 1211.1,485.5 1213.8,485.5 1216.4,488.9 1219.3,495.0 1221.9,491.0 1224.9,504.1 1227.1,496.7 1229.7,497.2 1232.3,495.0 1234.8,492.4 1237.4,489.8" fill="none" stroke="#4b93de" stroke-width="1" stroke-linejoin="round" opacity="0.9"/>
<rect x="1244.3" y="0" width="1.5" height="581.8" fill="#5e7070"/>
<line x1="0" y1="581.3" x2="1245.6" y2="581.3" stroke="#2a3535" stroke-width="1"/>
<line x1="1245" y1="15.1" x2="1247.4" y2="15.1" stroke="#4a5555" stroke-width="0.9"/>
<text x="1249.3" y="17.4" font-size="6.2" fill="#222">11556.40</text>
<line x1="1245" y1="37.4" x2="1247.4" y2="37.4" stroke="#4a5555" stroke-width="0.9"/>
<text x="1249.3" y="39.7" font-size="6.2" fill="#222">11519.00</text>
<line x1="1245" y1="59.1" x2="1247.4" y2="59.1" stroke="#4a5555" stroke-width="0.9"/>
<text x="1249.3" y="61.4" font-size="6.2" fill="#222">11482.70</text>
<line x1="1245" y1="81.5" x2="1247.4" y2="81.5" stroke="#4a5555" stroke-width="0.9"/>
<text x="1249.3" y="83.8" font-size="6.2" fill="#222">11445.30</text>
<line x1="1245" y1="103.2" x2="1247.4" y2="103.2" stroke="#4a5555" stroke-width="0.9"/>
<text x="1249.3" y="105.5" font-size="6.2" fill="#222">11409.00</text>
<line x1="1245" y1="125.6" x2="1247.4" y2="125.6" stroke="#4a5555" stroke-width="0.9"/>
<text x="1249.3" y="127.9" font-size="6.2" fill="#222">11371.60</text>
<line x1="1245" y1="147.3" x2="1247.4" y2="147.3" stroke="#4a5555" stroke-width="0.9"/>
<text x="1249.3" y="149.6" font-size="6.2" fill="#222">11335.30</text>
<line x1="1245" y1="169.7" x2="1247.4" y2="169.7" stroke="#4a5555" stroke-width="0.9"/>
<text x="1249.3" y="172.0" font-size="6.2" fill="#222">11297.90</text>
<line x1="1245" y1="191.4" x2="1247.4" y2="191.4" stroke="#4a5555" stroke-width="0.9"/>
<text x="1249.3" y="193.7" font-size="6.2" fill="#222">11261.60</text>
<line x1="1245" y1="213.7" x2="1247.4" y2="213.7" stroke="#4a5555" stroke-width="0.9"/>
<text x="1249.3" y="216.0" font-size="6.2" fill="#222">11224.20</text>
<line x1="1245" y1="235.4" x2="1247.4" y2="235.4" stroke="#4a5555" stroke-width="0.9"/>
<text x="1249.3" y="237.7" font-size="6.2" fill="#222">11187.90</text>
<line x1="1245" y1="257.8" x2="1247.4" y2="257.8" stroke="#4a5555" stroke-width="0.9"/>
<text x="1249.3" y="260.1" font-size="6.2" fill="#222">11150.50</text>
<line x1="1245" y1="279.5" x2="1247.4" y2="279.5" stroke="#4a5555" stroke-width="0.9"/>
<text x="1249.3" y="281.8" font-size="6.2" fill="#222">11114.20</text>
<line x1="1245" y1="301.9" x2="1247.4" y2="301.9" stroke="#4a5555" stroke-width="0.9"/>
<text x="1249.3" y="304.2" font-size="6.2" fill="#222">11076.80</text>
<line x1="1245" y1="323.6" x2="1247.4" y2="323.6" stroke="#4a5555" stroke-width="0.9"/>
<text x="1249.3" y="325.9" font-size="6.2" fill="#222">11040.50</text>
<line x1="1245" y1="346.0" x2="1247.4" y2="346.0" stroke="#4a5555" stroke-width="0.9"/>
<text x="1249.3" y="348.3" font-size="6.2" fill="#222">11003.10</text>
<line x1="1245" y1="367.7" x2="1247.4" y2="367.7" stroke="#4a5555" stroke-width="0.9"/>
<text x="1249.3" y="370.0" font-size="6.2" fill="#222">10966.80</text>
<line x1="1245" y1="390.1" x2="1247.4" y2="390.1" stroke="#4a5555" stroke-width="0.9"/>
<text x="1249.3" y="392.4" font-size="6.2" fill="#222">10929.40</text>
<line x1="1245" y1="411.8" x2="1247.4" y2="411.8" stroke="#4a5555" stroke-width="0.9"/>
<text x="1249.3" y="414.1" font-size="6.2" fill="#222">10893.10</text>
<line x1="1245" y1="434.1" x2="1247.4" y2="434.1" stroke="#4a5555" stroke-width="0.9"/>
<text x="1249.3" y="436.4" font-size="6.2" fill="#222">10855.70</text>
<line x1="1245" y1="455.8" x2="1247.4" y2="455.8" stroke="#4a5555" stroke-width="0.9"/>
<text x="1249.3" y="458.1" font-size="6.2" fill="#222">10819.40</text>
<rect x="1245.6" y="58" width="31.4" height="7.2" fill="#101010"/>
<text x="1249.3" y="63.9" font-size="6.2" fill="#ffffff">11478.10</text>
<rect x="1245.6" y="359" width="31.4" height="7" fill="#12c4d0"/>
<text x="1249.3" y="364.8" font-size="6.2" fill="#ffffff">10974.03</text>
<text x="1248.3" y="466.5" font-size="6.2" fill="#222">100</text>
<line x1="1245" y1="496.5" x2="1247.4" y2="496.5" stroke="#4a5555" stroke-width="0.9"/>
<text x="1248.3" y="498.8" font-size="6.2" fill="#222">70</text>
<line x1="1245" y1="544.8" x2="1247.4" y2="544.8" stroke="#4a5555" stroke-width="0.9"/>
<text x="1248.3" y="547.1" font-size="6.2" fill="#222">30</text>
<text x="1248.3" y="579.1" font-size="6.2" fill="#222">0</text>
<line x1="0.5" y1="581" x2="0.5" y2="583.5" stroke="#2a3535" stroke-width="0.9"/>
<text x="0.2" y="589.5" font-size="6.05" fill="#222">27 Sep 2022</text>
<line x1="43.3" y1="581" x2="43.3" y2="583.5" stroke="#2a3535" stroke-width="0.9"/>
<text x="43.0" y="589.5" font-size="6.05" fill="#222">27 Sep 16:30</text>
<line x1="86.1" y1="581" x2="86.1" y2="583.5" stroke="#2a3535" stroke-width="0.9"/>
<text x="85.8" y="589.5" font-size="6.05" fill="#222">27 Sep 20:30</text>
<line x1="128.8" y1="581" x2="128.8" y2="583.5" stroke="#2a3535" stroke-width="0.9"/>
<text x="128.5" y="589.5" font-size="6.05" fill="#222">28 Sep 01:30</text>
<line x1="171.6" y1="581" x2="171.6" y2="583.5" stroke="#2a3535" stroke-width="0.9"/>
<text x="171.3" y="589.5" font-size="6.05" fill="#222">28 Sep 05:30</text>
<line x1="214.4" y1="581" x2="214.4" y2="583.5" stroke="#2a3535" stroke-width="0.9"/>
<text x="214.1" y="589.5" font-size="6.05" fill="#222">28 Sep 09:30</text>
<line x1="257.2" y1="581" x2="257.2" y2="583.5" stroke="#2a3535" stroke-width="0.9"/>
<text x="256.9" y="589.5" font-size="6.05" fill="#222">28 Sep 13:30</text>
<line x1="300.0" y1="581" x2="300.0" y2="583.5" stroke="#2a3535" stroke-width="0.9"/>
<text x="299.7" y="589.5" font-size="6.05" fill="#222">28 Sep 17:30</text>
<line x1="342.7" y1="581" x2="342.7" y2="583.5" stroke="#2a3535" stroke-width="0.9"/>
<text x="342.4" y="589.5" font-size="6.05" fill="#222">28 Sep 21:30</text>
<line x1="385.5" y1="581" x2="385.5" y2="583.5" stroke="#2a3535" stroke-width="0.9"/>
<text x="385.2" y="589.5" font-size="6.05" fill="#222">29 Sep 02:30</text>
<line x1="428.3" y1="581" x2="428.3" y2="583.5" stroke="#2a3535" stroke-width="0.9"/>
<text x="428.0" y="589.5" font-size="6.05" fill="#222">29 Sep 06:30</text>
<line x1="471.1" y1="581" x2="471.1" y2="583.5" stroke="#2a3535" stroke-width="0.9"/>
<text x="470.8" y="589.5" font-size="6.05" fill="#222">29 Sep 10:30</text>
<line x1="513.9" y1="581" x2="513.9" y2="583.5" stroke="#2a3535" stroke-width="0.9"/>
<text x="513.6" y="589.5" font-size="6.05" fill="#222">29 Sep 14:30</text>
<line x1="556.6" y1="581" x2="556.6" y2="583.5" stroke="#2a3535" stroke-width="0.9"/>
<text x="556.3" y="589.5" font-size="6.05" fill="#222">29 Sep 18:30</text>
<line x1="599.4" y1="581" x2="599.4" y2="583.5" stroke="#2a3535" stroke-width="0.9"/>
<text x="599.1" y="589.5" font-size="6.05" fill="#222">29 Sep 22:30</text>
<line x1="642.2" y1="581" x2="642.2" y2="583.5" stroke="#2a3535" stroke-width="0.9"/>
<text x="641.9" y="589.5" font-size="6.05" fill="#222">30 Sep 03:30</text>
<line x1="685.0" y1="581" x2="685.0" y2="583.5" stroke="#2a3535" stroke-width="0.9"/>
<text x="684.7" y="589.5" font-size="6.05" fill="#222">30 Sep 07:30</text>
<line x1="727.8" y1="581" x2="727.8" y2="583.5" stroke="#2a3535" stroke-width="0.9"/>
<text x="727.5" y="589.5" font-size="6.05" fill="#222">30 Sep 11:30</text>
<line x1="770.5" y1="581" x2="770.5" y2="583.5" stroke="#2a3535" stroke-width="0.9"/>
<text x="770.2" y="589.5" font-size="6.05" fill="#222">30 Sep 15:30</text>
<line x1="813.3" y1="581" x2="813.3" y2="583.5" stroke="#2a3535" stroke-width="0.9"/>
<text x="813.0" y="589.5" font-size="6.05" fill="#222">30 Sep 19:30</text>
<line x1="856.1" y1="581" x2="856.1" y2="583.5" stroke="#2a3535" stroke-width="0.9"/>
<text x="855.8" y="589.5" font-size="6.05" fill="#222">30 Sep 23:30</text>
<line x1="898.9" y1="581" x2="898.9" y2="583.5" stroke="#2a3535" stroke-width="0.9"/>
<text x="898.6" y="589.5" font-size="6.05" fill="#222">3 Oct 04:30</text>
<line x1="941.7" y1="581" x2="941.7" y2="583.5" stroke="#2a3535" stroke-width="0.9"/>
<text x="941.4" y="589.5" font-size="6.05" fill="#222">3 Oct 08:30</text>
<line x1="984.4" y1="581" x2="984.4" y2="583.5" stroke="#2a3535" stroke-width="0.9"/>
<text x="984.1" y="589.5" font-size="6.05" fill="#222">3 Oct 12:30</text>
<line x1="1027.2" y1="581" x2="1027.2" y2="583.5" stroke="#2a3535" stroke-width="0.9"/>
<text x="1026.9" y="589.5" font-size="6.05" fill="#222">3 Oct 16:30</text>
<line x1="1070.0" y1="581" x2="1070.0" y2="583.5" stroke="#2a3535" stroke-width="0.9"/>
<text x="1069.7" y="589.5" font-size="6.05" fill="#222">3 Oct 20:30</text>
<line x1="1112.8" y1="581" x2="1112.8" y2="583.5" stroke="#2a3535" stroke-width="0.9"/>
<text x="1112.5" y="589.5" font-size="6.05" fill="#222">4 Oct 01:30</text>
<line x1="1155.6" y1="581" x2="1155.6" y2="583.5" stroke="#2a3535" stroke-width="0.9"/>
<text x="1155.3" y="589.5" font-size="6.05" fill="#222">4 Oct 05:30</text>
<line x1="1198.3" y1="581" x2="1198.3" y2="583.5" stroke="#2a3535" stroke-width="0.9"/>
<text x="1198.0" y="589.5" font-size="6.05" fill="#222">4 Oct 09:30</text>
<path d="M2.7 3 L6.5 3 L4.6 5.4 Z" fill="#111"/>
<text x="10.6" y="5.9" font-size="6.2" fill="#222">USTEC,M15</text>
<text x="49.8" y="5.9" font-size="6.2" fill="#222">11458.20 11478.90 11455.90 11478.10</text>
<text x="2.8" y="467.5" font-size="6.2" fill="#222">RSI(14) 76.4894</text>
<rect x="0" y="594.6" width="1280" height="1.2" fill="#d6e6e6"/>
<rect x="0" y="595.6" width="1280" height="2.4" fill="#a8a8a8"/>
<rect x="535.2" y="595.4" width="56.4" height="2.6" fill="#6a6a6a"/>
<rect x="535.9" y="595.8" width="55.0" height="2.2" fill="#fbfbfb"/>
</svg>
</body></html>
